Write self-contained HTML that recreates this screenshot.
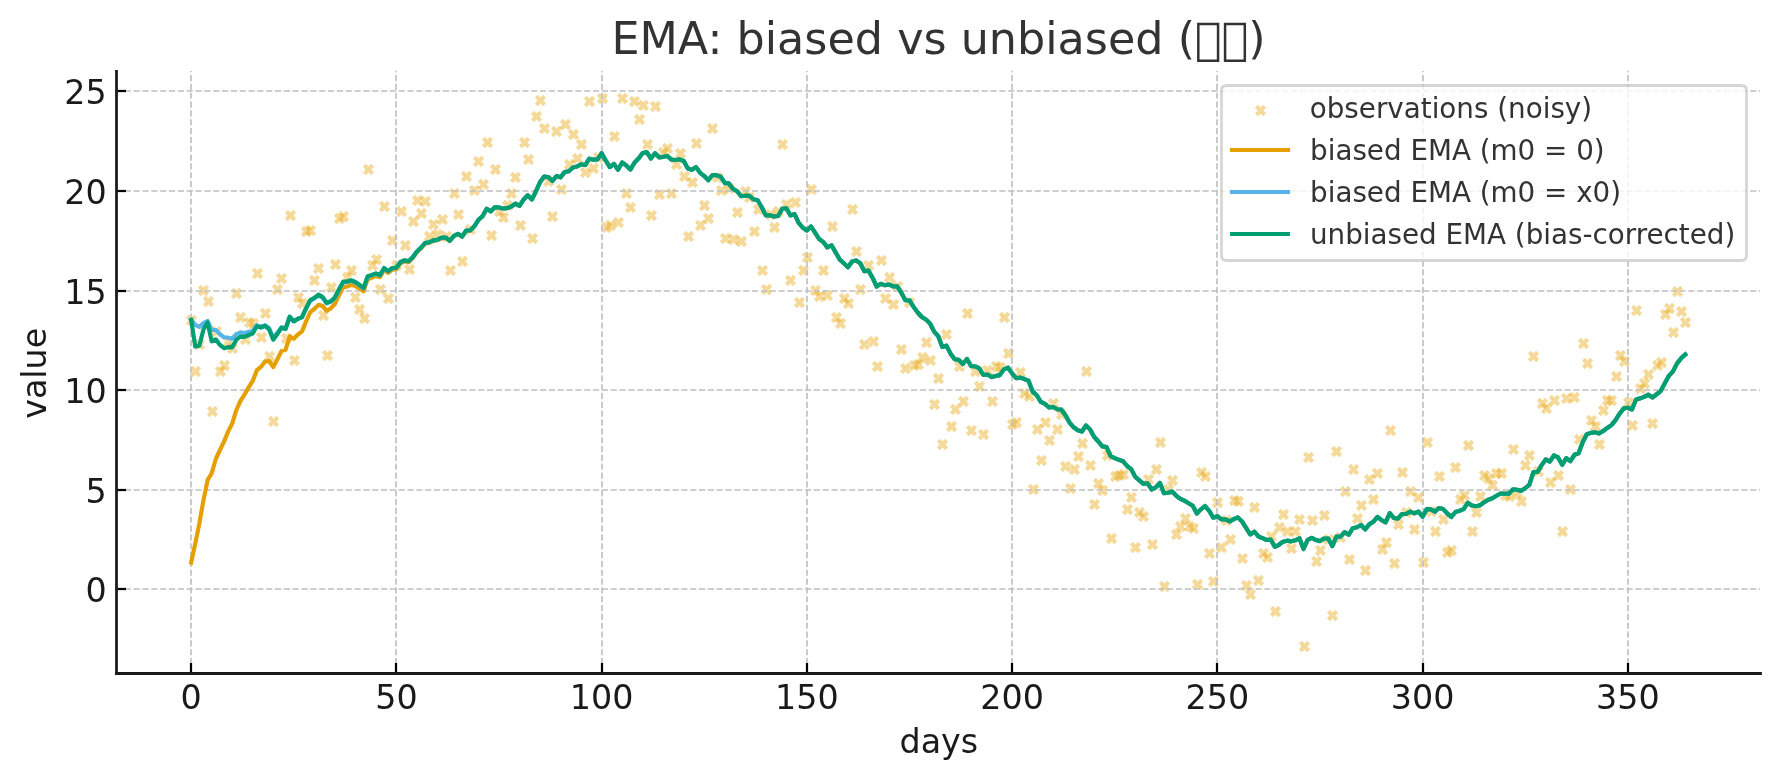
<!DOCTYPE html>
<html lang="en">
<head>
<meta charset="utf-8">
<title>EMA: biased vs unbiased</title>
<style>
html,body{margin:0;padding:0;background:#ffffff;}
body{width:1779px;height:780px;overflow:hidden;}
svg{display:block;will-change:transform;}
</style>
</head>
<body>
<svg width="1780" height="780" viewBox="0 0 1780 780">
 <defs>
  <style type="text/css">*{stroke-linejoin: round; stroke-linecap: butt}</style>
 </defs>
 <g id="figure_1">
  <g id="patch_1">
   <path d="M 0 780 
L 1780 780 
L 1780 0 
L 0 0 
z
" style="fill: #ffffff"/>
  </g>
  <g id="axes_1">
   <g id="patch_2">
    <path d="M 116.458333 673.166667 
L 1760 673.166667 
L 1760 70.666667 
L 116.458333 70.666667 
z
" style="fill: #ffffff"/>
   </g>
   <g id="PathCollection_1">
    <defs>
     <path id="m74cac487a1" d="M -4.166667 4.166667 
L 4.166667 -4.166667 
M -4.166667 -4.166667 
L 4.166667 4.166667 
" style="stroke: #e69f00; stroke-opacity: 0.4; stroke-width: 4.166667"/>
    </defs>
    <g clip-path="url(#p6c6bb15aff)">
     <use href="#m74cac487a1" x="191.5" y="320.5" style="fill: #e69f00; fill-opacity: 0.4; stroke: #e69f00; stroke-opacity: 0.4; stroke-width: 4.166667"/>
     <use href="#m74cac487a1" x="195.5" y="371.5" style="fill: #e69f00; fill-opacity: 0.4; stroke: #e69f00; stroke-opacity: 0.4; stroke-width: 4.166667"/>
     <use href="#m74cac487a1" x="199.5" y="344.5" style="fill: #e69f00; fill-opacity: 0.4; stroke: #e69f00; stroke-opacity: 0.4; stroke-width: 4.166667"/>
     <use href="#m74cac487a1" x="203.5" y="290.5" style="fill: #e69f00; fill-opacity: 0.4; stroke: #e69f00; stroke-opacity: 0.4; stroke-width: 4.166667"/>
     <use href="#m74cac487a1" x="208.5" y="301.5" style="fill: #e69f00; fill-opacity: 0.4; stroke: #e69f00; stroke-opacity: 0.4; stroke-width: 4.166667"/>
     <use href="#m74cac487a1" x="212.5" y="411.5" style="fill: #e69f00; fill-opacity: 0.4; stroke: #e69f00; stroke-opacity: 0.4; stroke-width: 4.166667"/>
     <use href="#m74cac487a1" x="216.5" y="331.5" style="fill: #e69f00; fill-opacity: 0.4; stroke: #e69f00; stroke-opacity: 0.4; stroke-width: 4.166667"/>
     <use href="#m74cac487a1" x="220.5" y="371.5" style="fill: #e69f00; fill-opacity: 0.4; stroke: #e69f00; stroke-opacity: 0.4; stroke-width: 4.166667"/>
     <use href="#m74cac487a1" x="224.5" y="365.5" style="fill: #e69f00; fill-opacity: 0.4; stroke: #e69f00; stroke-opacity: 0.4; stroke-width: 4.166667"/>
     <use href="#m74cac487a1" x="228.5" y="341.5" style="fill: #e69f00; fill-opacity: 0.4; stroke: #e69f00; stroke-opacity: 0.4; stroke-width: 4.166667"/>
     <use href="#m74cac487a1" x="232.5" y="348.5" style="fill: #e69f00; fill-opacity: 0.4; stroke: #e69f00; stroke-opacity: 0.4; stroke-width: 4.166667"/>
     <use href="#m74cac487a1" x="236.5" y="293.5" style="fill: #e69f00; fill-opacity: 0.4; stroke: #e69f00; stroke-opacity: 0.4; stroke-width: 4.166667"/>
     <use href="#m74cac487a1" x="240.5" y="317.5" style="fill: #e69f00; fill-opacity: 0.4; stroke: #e69f00; stroke-opacity: 0.4; stroke-width: 4.166667"/>
     <use href="#m74cac487a1" x="245.5" y="339.5" style="fill: #e69f00; fill-opacity: 0.4; stroke: #e69f00; stroke-opacity: 0.4; stroke-width: 4.166667"/>
     <use href="#m74cac487a1" x="249.5" y="322.5" style="fill: #e69f00; fill-opacity: 0.4; stroke: #e69f00; stroke-opacity: 0.4; stroke-width: 4.166667"/>
     <use href="#m74cac487a1" x="253.5" y="323.5" style="fill: #e69f00; fill-opacity: 0.4; stroke: #e69f00; stroke-opacity: 0.4; stroke-width: 4.166667"/>
     <use href="#m74cac487a1" x="257.5" y="273.5" style="fill: #e69f00; fill-opacity: 0.4; stroke: #e69f00; stroke-opacity: 0.4; stroke-width: 4.166667"/>
     <use href="#m74cac487a1" x="261.5" y="337.5" style="fill: #e69f00; fill-opacity: 0.4; stroke: #e69f00; stroke-opacity: 0.4; stroke-width: 4.166667"/>
     <use href="#m74cac487a1" x="265.5" y="313.5" style="fill: #e69f00; fill-opacity: 0.4; stroke: #e69f00; stroke-opacity: 0.4; stroke-width: 4.166667"/>
     <use href="#m74cac487a1" x="269.5" y="356.5" style="fill: #e69f00; fill-opacity: 0.4; stroke: #e69f00; stroke-opacity: 0.4; stroke-width: 4.166667"/>
     <use href="#m74cac487a1" x="273.5" y="421.5" style="fill: #e69f00; fill-opacity: 0.4; stroke: #e69f00; stroke-opacity: 0.4; stroke-width: 4.166667"/>
     <use href="#m74cac487a1" x="277.5" y="289.5" style="fill: #e69f00; fill-opacity: 0.4; stroke: #e69f00; stroke-opacity: 0.4; stroke-width: 4.166667"/>
     <use href="#m74cac487a1" x="281.5" y="278.5" style="fill: #e69f00; fill-opacity: 0.4; stroke: #e69f00; stroke-opacity: 0.4; stroke-width: 4.166667"/>
     <use href="#m74cac487a1" x="286.5" y="338.5" style="fill: #e69f00; fill-opacity: 0.4; stroke: #e69f00; stroke-opacity: 0.4; stroke-width: 4.166667"/>
     <use href="#m74cac487a1" x="290.5" y="215.5" style="fill: #e69f00; fill-opacity: 0.4; stroke: #e69f00; stroke-opacity: 0.4; stroke-width: 4.166667"/>
     <use href="#m74cac487a1" x="294.5" y="360.5" style="fill: #e69f00; fill-opacity: 0.4; stroke: #e69f00; stroke-opacity: 0.4; stroke-width: 4.166667"/>
     <use href="#m74cac487a1" x="298.5" y="297.5" style="fill: #e69f00; fill-opacity: 0.4; stroke: #e69f00; stroke-opacity: 0.4; stroke-width: 4.166667"/>
     <use href="#m74cac487a1" x="302.5" y="303.5" style="fill: #e69f00; fill-opacity: 0.4; stroke: #e69f00; stroke-opacity: 0.4; stroke-width: 4.166667"/>
     <use href="#m74cac487a1" x="306.5" y="231.5" style="fill: #e69f00; fill-opacity: 0.4; stroke: #e69f00; stroke-opacity: 0.4; stroke-width: 4.166667"/>
     <use href="#m74cac487a1" x="310.5" y="230.5" style="fill: #e69f00; fill-opacity: 0.4; stroke: #e69f00; stroke-opacity: 0.4; stroke-width: 4.166667"/>
     <use href="#m74cac487a1" x="314.5" y="280.5" style="fill: #e69f00; fill-opacity: 0.4; stroke: #e69f00; stroke-opacity: 0.4; stroke-width: 4.166667"/>
     <use href="#m74cac487a1" x="318.5" y="268.5" style="fill: #e69f00; fill-opacity: 0.4; stroke: #e69f00; stroke-opacity: 0.4; stroke-width: 4.166667"/>
     <use href="#m74cac487a1" x="323.5" y="315.5" style="fill: #e69f00; fill-opacity: 0.4; stroke: #e69f00; stroke-opacity: 0.4; stroke-width: 4.166667"/>
     <use href="#m74cac487a1" x="327.5" y="355.5" style="fill: #e69f00; fill-opacity: 0.4; stroke: #e69f00; stroke-opacity: 0.4; stroke-width: 4.166667"/>
     <use href="#m74cac487a1" x="331.5" y="287.5" style="fill: #e69f00; fill-opacity: 0.4; stroke: #e69f00; stroke-opacity: 0.4; stroke-width: 4.166667"/>
     <use href="#m74cac487a1" x="335.5" y="264.5" style="fill: #e69f00; fill-opacity: 0.4; stroke: #e69f00; stroke-opacity: 0.4; stroke-width: 4.166667"/>
     <use href="#m74cac487a1" x="339.5" y="218.5" style="fill: #e69f00; fill-opacity: 0.4; stroke: #e69f00; stroke-opacity: 0.4; stroke-width: 4.166667"/>
     <use href="#m74cac487a1" x="343.5" y="216.5" style="fill: #e69f00; fill-opacity: 0.4; stroke: #e69f00; stroke-opacity: 0.4; stroke-width: 4.166667"/>
     <use href="#m74cac487a1" x="347.5" y="277.5" style="fill: #e69f00; fill-opacity: 0.4; stroke: #e69f00; stroke-opacity: 0.4; stroke-width: 4.166667"/>
     <use href="#m74cac487a1" x="351.5" y="270.5" style="fill: #e69f00; fill-opacity: 0.4; stroke: #e69f00; stroke-opacity: 0.4; stroke-width: 4.166667"/>
     <use href="#m74cac487a1" x="355.5" y="297.5" style="fill: #e69f00; fill-opacity: 0.4; stroke: #e69f00; stroke-opacity: 0.4; stroke-width: 4.166667"/>
     <use href="#m74cac487a1" x="359.5" y="309.5" style="fill: #e69f00; fill-opacity: 0.4; stroke: #e69f00; stroke-opacity: 0.4; stroke-width: 4.166667"/>
     <use href="#m74cac487a1" x="364.5" y="318.5" style="fill: #e69f00; fill-opacity: 0.4; stroke: #e69f00; stroke-opacity: 0.4; stroke-width: 4.166667"/>
     <use href="#m74cac487a1" x="368.5" y="169.5" style="fill: #e69f00; fill-opacity: 0.4; stroke: #e69f00; stroke-opacity: 0.4; stroke-width: 4.166667"/>
     <use href="#m74cac487a1" x="372.5" y="265.5" style="fill: #e69f00; fill-opacity: 0.4; stroke: #e69f00; stroke-opacity: 0.4; stroke-width: 4.166667"/>
     <use href="#m74cac487a1" x="376.5" y="259.5" style="fill: #e69f00; fill-opacity: 0.4; stroke: #e69f00; stroke-opacity: 0.4; stroke-width: 4.166667"/>
     <use href="#m74cac487a1" x="380.5" y="289.5" style="fill: #e69f00; fill-opacity: 0.4; stroke: #e69f00; stroke-opacity: 0.4; stroke-width: 4.166667"/>
     <use href="#m74cac487a1" x="384.5" y="206.5" style="fill: #e69f00; fill-opacity: 0.4; stroke: #e69f00; stroke-opacity: 0.4; stroke-width: 4.166667"/>
     <use href="#m74cac487a1" x="388.5" y="298.5" style="fill: #e69f00; fill-opacity: 0.4; stroke: #e69f00; stroke-opacity: 0.4; stroke-width: 4.166667"/>
     <use href="#m74cac487a1" x="392.5" y="240.5" style="fill: #e69f00; fill-opacity: 0.4; stroke: #e69f00; stroke-opacity: 0.4; stroke-width: 4.166667"/>
     <use href="#m74cac487a1" x="396.5" y="265.5" style="fill: #e69f00; fill-opacity: 0.4; stroke: #e69f00; stroke-opacity: 0.4; stroke-width: 4.166667"/>
     <use href="#m74cac487a1" x="401.5" y="211.5" style="fill: #e69f00; fill-opacity: 0.4; stroke: #e69f00; stroke-opacity: 0.4; stroke-width: 4.166667"/>
     <use href="#m74cac487a1" x="405.5" y="245.5" style="fill: #e69f00; fill-opacity: 0.4; stroke: #e69f00; stroke-opacity: 0.4; stroke-width: 4.166667"/>
     <use href="#m74cac487a1" x="409.5" y="269.5" style="fill: #e69f00; fill-opacity: 0.4; stroke: #e69f00; stroke-opacity: 0.4; stroke-width: 4.166667"/>
     <use href="#m74cac487a1" x="413.5" y="221.5" style="fill: #e69f00; fill-opacity: 0.4; stroke: #e69f00; stroke-opacity: 0.4; stroke-width: 4.166667"/>
     <use href="#m74cac487a1" x="417.5" y="200.5" style="fill: #e69f00; fill-opacity: 0.4; stroke: #e69f00; stroke-opacity: 0.4; stroke-width: 4.166667"/>
     <use href="#m74cac487a1" x="421.5" y="213.5" style="fill: #e69f00; fill-opacity: 0.4; stroke: #e69f00; stroke-opacity: 0.4; stroke-width: 4.166667"/>
     <use href="#m74cac487a1" x="425.5" y="201.5" style="fill: #e69f00; fill-opacity: 0.4; stroke: #e69f00; stroke-opacity: 0.4; stroke-width: 4.166667"/>
     <use href="#m74cac487a1" x="429.5" y="236.5" style="fill: #e69f00; fill-opacity: 0.4; stroke: #e69f00; stroke-opacity: 0.4; stroke-width: 4.166667"/>
     <use href="#m74cac487a1" x="433.5" y="224.5" style="fill: #e69f00; fill-opacity: 0.4; stroke: #e69f00; stroke-opacity: 0.4; stroke-width: 4.166667"/>
     <use href="#m74cac487a1" x="437.5" y="234.5" style="fill: #e69f00; fill-opacity: 0.4; stroke: #e69f00; stroke-opacity: 0.4; stroke-width: 4.166667"/>
     <use href="#m74cac487a1" x="442.5" y="219.5" style="fill: #e69f00; fill-opacity: 0.4; stroke: #e69f00; stroke-opacity: 0.4; stroke-width: 4.166667"/>
     <use href="#m74cac487a1" x="446.5" y="236.5" style="fill: #e69f00; fill-opacity: 0.4; stroke: #e69f00; stroke-opacity: 0.4; stroke-width: 4.166667"/>
     <use href="#m74cac487a1" x="450.5" y="270.5" style="fill: #e69f00; fill-opacity: 0.4; stroke: #e69f00; stroke-opacity: 0.4; stroke-width: 4.166667"/>
     <use href="#m74cac487a1" x="454.5" y="193.5" style="fill: #e69f00; fill-opacity: 0.4; stroke: #e69f00; stroke-opacity: 0.4; stroke-width: 4.166667"/>
     <use href="#m74cac487a1" x="458.5" y="214.5" style="fill: #e69f00; fill-opacity: 0.4; stroke: #e69f00; stroke-opacity: 0.4; stroke-width: 4.166667"/>
     <use href="#m74cac487a1" x="462.5" y="261.5" style="fill: #e69f00; fill-opacity: 0.4; stroke: #e69f00; stroke-opacity: 0.4; stroke-width: 4.166667"/>
     <use href="#m74cac487a1" x="466.5" y="176.5" style="fill: #e69f00; fill-opacity: 0.4; stroke: #e69f00; stroke-opacity: 0.4; stroke-width: 4.166667"/>
     <use href="#m74cac487a1" x="470.5" y="229.5" style="fill: #e69f00; fill-opacity: 0.4; stroke: #e69f00; stroke-opacity: 0.4; stroke-width: 4.166667"/>
     <use href="#m74cac487a1" x="474.5" y="190.5" style="fill: #e69f00; fill-opacity: 0.4; stroke: #e69f00; stroke-opacity: 0.4; stroke-width: 4.166667"/>
     <use href="#m74cac487a1" x="478.5" y="161.5" style="fill: #e69f00; fill-opacity: 0.4; stroke: #e69f00; stroke-opacity: 0.4; stroke-width: 4.166667"/>
     <use href="#m74cac487a1" x="483.5" y="184.5" style="fill: #e69f00; fill-opacity: 0.4; stroke: #e69f00; stroke-opacity: 0.4; stroke-width: 4.166667"/>
     <use href="#m74cac487a1" x="487.5" y="142.5" style="fill: #e69f00; fill-opacity: 0.4; stroke: #e69f00; stroke-opacity: 0.4; stroke-width: 4.166667"/>
     <use href="#m74cac487a1" x="491.5" y="235.5" style="fill: #e69f00; fill-opacity: 0.4; stroke: #e69f00; stroke-opacity: 0.4; stroke-width: 4.166667"/>
     <use href="#m74cac487a1" x="495.5" y="169.5" style="fill: #e69f00; fill-opacity: 0.4; stroke: #e69f00; stroke-opacity: 0.4; stroke-width: 4.166667"/>
     <use href="#m74cac487a1" x="499.5" y="211.5" style="fill: #e69f00; fill-opacity: 0.4; stroke: #e69f00; stroke-opacity: 0.4; stroke-width: 4.166667"/>
     <use href="#m74cac487a1" x="503.5" y="217.5" style="fill: #e69f00; fill-opacity: 0.4; stroke: #e69f00; stroke-opacity: 0.4; stroke-width: 4.166667"/>
     <use href="#m74cac487a1" x="507.5" y="205.5" style="fill: #e69f00; fill-opacity: 0.4; stroke: #e69f00; stroke-opacity: 0.4; stroke-width: 4.166667"/>
     <use href="#m74cac487a1" x="511.5" y="193.5" style="fill: #e69f00; fill-opacity: 0.4; stroke: #e69f00; stroke-opacity: 0.4; stroke-width: 4.166667"/>
     <use href="#m74cac487a1" x="515.5" y="177.5" style="fill: #e69f00; fill-opacity: 0.4; stroke: #e69f00; stroke-opacity: 0.4; stroke-width: 4.166667"/>
     <use href="#m74cac487a1" x="520.5" y="225.5" style="fill: #e69f00; fill-opacity: 0.4; stroke: #e69f00; stroke-opacity: 0.4; stroke-width: 4.166667"/>
     <use href="#m74cac487a1" x="524.5" y="142.5" style="fill: #e69f00; fill-opacity: 0.4; stroke: #e69f00; stroke-opacity: 0.4; stroke-width: 4.166667"/>
     <use href="#m74cac487a1" x="528.5" y="159.5" style="fill: #e69f00; fill-opacity: 0.4; stroke: #e69f00; stroke-opacity: 0.4; stroke-width: 4.166667"/>
     <use href="#m74cac487a1" x="532.5" y="238.5" style="fill: #e69f00; fill-opacity: 0.4; stroke: #e69f00; stroke-opacity: 0.4; stroke-width: 4.166667"/>
     <use href="#m74cac487a1" x="536.5" y="116.5" style="fill: #e69f00; fill-opacity: 0.4; stroke: #e69f00; stroke-opacity: 0.4; stroke-width: 4.166667"/>
     <use href="#m74cac487a1" x="540.5" y="100.5" style="fill: #e69f00; fill-opacity: 0.4; stroke: #e69f00; stroke-opacity: 0.4; stroke-width: 4.166667"/>
     <use href="#m74cac487a1" x="544.5" y="128.5" style="fill: #e69f00; fill-opacity: 0.4; stroke: #e69f00; stroke-opacity: 0.4; stroke-width: 4.166667"/>
     <use href="#m74cac487a1" x="548.5" y="181.5" style="fill: #e69f00; fill-opacity: 0.4; stroke: #e69f00; stroke-opacity: 0.4; stroke-width: 4.166667"/>
     <use href="#m74cac487a1" x="552.5" y="216.5" style="fill: #e69f00; fill-opacity: 0.4; stroke: #e69f00; stroke-opacity: 0.4; stroke-width: 4.166667"/>
     <use href="#m74cac487a1" x="556.5" y="131.5" style="fill: #e69f00; fill-opacity: 0.4; stroke: #e69f00; stroke-opacity: 0.4; stroke-width: 4.166667"/>
     <use href="#m74cac487a1" x="561.5" y="189.5" style="fill: #e69f00; fill-opacity: 0.4; stroke: #e69f00; stroke-opacity: 0.4; stroke-width: 4.166667"/>
     <use href="#m74cac487a1" x="565.5" y="124.5" style="fill: #e69f00; fill-opacity: 0.4; stroke: #e69f00; stroke-opacity: 0.4; stroke-width: 4.166667"/>
     <use href="#m74cac487a1" x="569.5" y="164.5" style="fill: #e69f00; fill-opacity: 0.4; stroke: #e69f00; stroke-opacity: 0.4; stroke-width: 4.166667"/>
     <use href="#m74cac487a1" x="573.5" y="134.5" style="fill: #e69f00; fill-opacity: 0.4; stroke: #e69f00; stroke-opacity: 0.4; stroke-width: 4.166667"/>
     <use href="#m74cac487a1" x="577.5" y="158.5" style="fill: #e69f00; fill-opacity: 0.4; stroke: #e69f00; stroke-opacity: 0.4; stroke-width: 4.166667"/>
     <use href="#m74cac487a1" x="581.5" y="144.5" style="fill: #e69f00; fill-opacity: 0.4; stroke: #e69f00; stroke-opacity: 0.4; stroke-width: 4.166667"/>
     <use href="#m74cac487a1" x="585.5" y="172.5" style="fill: #e69f00; fill-opacity: 0.4; stroke: #e69f00; stroke-opacity: 0.4; stroke-width: 4.166667"/>
     <use href="#m74cac487a1" x="589.5" y="101.5" style="fill: #e69f00; fill-opacity: 0.4; stroke: #e69f00; stroke-opacity: 0.4; stroke-width: 4.166667"/>
     <use href="#m74cac487a1" x="593.5" y="168.5" style="fill: #e69f00; fill-opacity: 0.4; stroke: #e69f00; stroke-opacity: 0.4; stroke-width: 4.166667"/>
     <use href="#m74cac487a1" x="598.5" y="157.5" style="fill: #e69f00; fill-opacity: 0.4; stroke: #e69f00; stroke-opacity: 0.4; stroke-width: 4.166667"/>
     <use href="#m74cac487a1" x="602.5" y="98.5" style="fill: #e69f00; fill-opacity: 0.4; stroke: #e69f00; stroke-opacity: 0.4; stroke-width: 4.166667"/>
     <use href="#m74cac487a1" x="606.5" y="227.5" style="fill: #e69f00; fill-opacity: 0.4; stroke: #e69f00; stroke-opacity: 0.4; stroke-width: 4.166667"/>
     <use href="#m74cac487a1" x="610.5" y="225.5" style="fill: #e69f00; fill-opacity: 0.4; stroke: #e69f00; stroke-opacity: 0.4; stroke-width: 4.166667"/>
     <use href="#m74cac487a1" x="614.5" y="136.5" style="fill: #e69f00; fill-opacity: 0.4; stroke: #e69f00; stroke-opacity: 0.4; stroke-width: 4.166667"/>
     <use href="#m74cac487a1" x="618.5" y="222.5" style="fill: #e69f00; fill-opacity: 0.4; stroke: #e69f00; stroke-opacity: 0.4; stroke-width: 4.166667"/>
     <use href="#m74cac487a1" x="622.5" y="98.5" style="fill: #e69f00; fill-opacity: 0.4; stroke: #e69f00; stroke-opacity: 0.4; stroke-width: 4.166667"/>
     <use href="#m74cac487a1" x="626.5" y="193.5" style="fill: #e69f00; fill-opacity: 0.4; stroke: #e69f00; stroke-opacity: 0.4; stroke-width: 4.166667"/>
     <use href="#m74cac487a1" x="630.5" y="207.5" style="fill: #e69f00; fill-opacity: 0.4; stroke: #e69f00; stroke-opacity: 0.4; stroke-width: 4.166667"/>
     <use href="#m74cac487a1" x="634.5" y="101.5" style="fill: #e69f00; fill-opacity: 0.4; stroke: #e69f00; stroke-opacity: 0.4; stroke-width: 4.166667"/>
     <use href="#m74cac487a1" x="639.5" y="119.5" style="fill: #e69f00; fill-opacity: 0.4; stroke: #e69f00; stroke-opacity: 0.4; stroke-width: 4.166667"/>
     <use href="#m74cac487a1" x="643.5" y="105.5" style="fill: #e69f00; fill-opacity: 0.4; stroke: #e69f00; stroke-opacity: 0.4; stroke-width: 4.166667"/>
     <use href="#m74cac487a1" x="647.5" y="144.5" style="fill: #e69f00; fill-opacity: 0.4; stroke: #e69f00; stroke-opacity: 0.4; stroke-width: 4.166667"/>
     <use href="#m74cac487a1" x="651.5" y="215.5" style="fill: #e69f00; fill-opacity: 0.4; stroke: #e69f00; stroke-opacity: 0.4; stroke-width: 4.166667"/>
     <use href="#m74cac487a1" x="655.5" y="106.5" style="fill: #e69f00; fill-opacity: 0.4; stroke: #e69f00; stroke-opacity: 0.4; stroke-width: 4.166667"/>
     <use href="#m74cac487a1" x="659.5" y="194.5" style="fill: #e69f00; fill-opacity: 0.4; stroke: #e69f00; stroke-opacity: 0.4; stroke-width: 4.166667"/>
     <use href="#m74cac487a1" x="663.5" y="152.5" style="fill: #e69f00; fill-opacity: 0.4; stroke: #e69f00; stroke-opacity: 0.4; stroke-width: 4.166667"/>
     <use href="#m74cac487a1" x="667.5" y="148.5" style="fill: #e69f00; fill-opacity: 0.4; stroke: #e69f00; stroke-opacity: 0.4; stroke-width: 4.166667"/>
     <use href="#m74cac487a1" x="671.5" y="193.5" style="fill: #e69f00; fill-opacity: 0.4; stroke: #e69f00; stroke-opacity: 0.4; stroke-width: 4.166667"/>
     <use href="#m74cac487a1" x="676.5" y="164.5" style="fill: #e69f00; fill-opacity: 0.4; stroke: #e69f00; stroke-opacity: 0.4; stroke-width: 4.166667"/>
     <use href="#m74cac487a1" x="680.5" y="153.5" style="fill: #e69f00; fill-opacity: 0.4; stroke: #e69f00; stroke-opacity: 0.4; stroke-width: 4.166667"/>
     <use href="#m74cac487a1" x="684.5" y="176.5" style="fill: #e69f00; fill-opacity: 0.4; stroke: #e69f00; stroke-opacity: 0.4; stroke-width: 4.166667"/>
     <use href="#m74cac487a1" x="688.5" y="236.5" style="fill: #e69f00; fill-opacity: 0.4; stroke: #e69f00; stroke-opacity: 0.4; stroke-width: 4.166667"/>
     <use href="#m74cac487a1" x="692.5" y="182.5" style="fill: #e69f00; fill-opacity: 0.4; stroke: #e69f00; stroke-opacity: 0.4; stroke-width: 4.166667"/>
     <use href="#m74cac487a1" x="696.5" y="143.5" style="fill: #e69f00; fill-opacity: 0.4; stroke: #e69f00; stroke-opacity: 0.4; stroke-width: 4.166667"/>
     <use href="#m74cac487a1" x="700.5" y="225.5" style="fill: #e69f00; fill-opacity: 0.4; stroke: #e69f00; stroke-opacity: 0.4; stroke-width: 4.166667"/>
     <use href="#m74cac487a1" x="704.5" y="205.5" style="fill: #e69f00; fill-opacity: 0.4; stroke: #e69f00; stroke-opacity: 0.4; stroke-width: 4.166667"/>
     <use href="#m74cac487a1" x="708.5" y="218.5" style="fill: #e69f00; fill-opacity: 0.4; stroke: #e69f00; stroke-opacity: 0.4; stroke-width: 4.166667"/>
     <use href="#m74cac487a1" x="712.5" y="128.5" style="fill: #e69f00; fill-opacity: 0.4; stroke: #e69f00; stroke-opacity: 0.4; stroke-width: 4.166667"/>
     <use href="#m74cac487a1" x="717.5" y="177.5" style="fill: #e69f00; fill-opacity: 0.4; stroke: #e69f00; stroke-opacity: 0.4; stroke-width: 4.166667"/>
     <use href="#m74cac487a1" x="721.5" y="190.5" style="fill: #e69f00; fill-opacity: 0.4; stroke: #e69f00; stroke-opacity: 0.4; stroke-width: 4.166667"/>
     <use href="#m74cac487a1" x="725.5" y="238.5" style="fill: #e69f00; fill-opacity: 0.4; stroke: #e69f00; stroke-opacity: 0.4; stroke-width: 4.166667"/>
     <use href="#m74cac487a1" x="729.5" y="188.5" style="fill: #e69f00; fill-opacity: 0.4; stroke: #e69f00; stroke-opacity: 0.4; stroke-width: 4.166667"/>
     <use href="#m74cac487a1" x="733.5" y="239.5" style="fill: #e69f00; fill-opacity: 0.4; stroke: #e69f00; stroke-opacity: 0.4; stroke-width: 4.166667"/>
     <use href="#m74cac487a1" x="737.5" y="212.5" style="fill: #e69f00; fill-opacity: 0.4; stroke: #e69f00; stroke-opacity: 0.4; stroke-width: 4.166667"/>
     <use href="#m74cac487a1" x="741.5" y="241.5" style="fill: #e69f00; fill-opacity: 0.4; stroke: #e69f00; stroke-opacity: 0.4; stroke-width: 4.166667"/>
     <use href="#m74cac487a1" x="745.5" y="191.5" style="fill: #e69f00; fill-opacity: 0.4; stroke: #e69f00; stroke-opacity: 0.4; stroke-width: 4.166667"/>
     <use href="#m74cac487a1" x="749.5" y="197.5" style="fill: #e69f00; fill-opacity: 0.4; stroke: #e69f00; stroke-opacity: 0.4; stroke-width: 4.166667"/>
     <use href="#m74cac487a1" x="754.5" y="231.5" style="fill: #e69f00; fill-opacity: 0.4; stroke: #e69f00; stroke-opacity: 0.4; stroke-width: 4.166667"/>
     <use href="#m74cac487a1" x="758.5" y="209.5" style="fill: #e69f00; fill-opacity: 0.4; stroke: #e69f00; stroke-opacity: 0.4; stroke-width: 4.166667"/>
     <use href="#m74cac487a1" x="762.5" y="270.5" style="fill: #e69f00; fill-opacity: 0.4; stroke: #e69f00; stroke-opacity: 0.4; stroke-width: 4.166667"/>
     <use href="#m74cac487a1" x="766.5" y="289.5" style="fill: #e69f00; fill-opacity: 0.4; stroke: #e69f00; stroke-opacity: 0.4; stroke-width: 4.166667"/>
     <use href="#m74cac487a1" x="770.5" y="214.5" style="fill: #e69f00; fill-opacity: 0.4; stroke: #e69f00; stroke-opacity: 0.4; stroke-width: 4.166667"/>
     <use href="#m74cac487a1" x="774.5" y="227.5" style="fill: #e69f00; fill-opacity: 0.4; stroke: #e69f00; stroke-opacity: 0.4; stroke-width: 4.166667"/>
     <use href="#m74cac487a1" x="778.5" y="211.5" style="fill: #e69f00; fill-opacity: 0.4; stroke: #e69f00; stroke-opacity: 0.4; stroke-width: 4.166667"/>
     <use href="#m74cac487a1" x="782.5" y="144.5" style="fill: #e69f00; fill-opacity: 0.4; stroke: #e69f00; stroke-opacity: 0.4; stroke-width: 4.166667"/>
     <use href="#m74cac487a1" x="786.5" y="204.5" style="fill: #e69f00; fill-opacity: 0.4; stroke: #e69f00; stroke-opacity: 0.4; stroke-width: 4.166667"/>
     <use href="#m74cac487a1" x="790.5" y="280.5" style="fill: #e69f00; fill-opacity: 0.4; stroke: #e69f00; stroke-opacity: 0.4; stroke-width: 4.166667"/>
     <use href="#m74cac487a1" x="795.5" y="202.5" style="fill: #e69f00; fill-opacity: 0.4; stroke: #e69f00; stroke-opacity: 0.4; stroke-width: 4.166667"/>
     <use href="#m74cac487a1" x="799.5" y="302.5" style="fill: #e69f00; fill-opacity: 0.4; stroke: #e69f00; stroke-opacity: 0.4; stroke-width: 4.166667"/>
     <use href="#m74cac487a1" x="803.5" y="270.5" style="fill: #e69f00; fill-opacity: 0.4; stroke: #e69f00; stroke-opacity: 0.4; stroke-width: 4.166667"/>
     <use href="#m74cac487a1" x="807.5" y="257.5" style="fill: #e69f00; fill-opacity: 0.4; stroke: #e69f00; stroke-opacity: 0.4; stroke-width: 4.166667"/>
     <use href="#m74cac487a1" x="811.5" y="189.5" style="fill: #e69f00; fill-opacity: 0.4; stroke: #e69f00; stroke-opacity: 0.4; stroke-width: 4.166667"/>
     <use href="#m74cac487a1" x="815.5" y="290.5" style="fill: #e69f00; fill-opacity: 0.4; stroke: #e69f00; stroke-opacity: 0.4; stroke-width: 4.166667"/>
     <use href="#m74cac487a1" x="819.5" y="296.5" style="fill: #e69f00; fill-opacity: 0.4; stroke: #e69f00; stroke-opacity: 0.4; stroke-width: 4.166667"/>
     <use href="#m74cac487a1" x="823.5" y="270.5" style="fill: #e69f00; fill-opacity: 0.4; stroke: #e69f00; stroke-opacity: 0.4; stroke-width: 4.166667"/>
     <use href="#m74cac487a1" x="827.5" y="295.5" style="fill: #e69f00; fill-opacity: 0.4; stroke: #e69f00; stroke-opacity: 0.4; stroke-width: 4.166667"/>
     <use href="#m74cac487a1" x="832.5" y="226.5" style="fill: #e69f00; fill-opacity: 0.4; stroke: #e69f00; stroke-opacity: 0.4; stroke-width: 4.166667"/>
     <use href="#m74cac487a1" x="836.5" y="317.5" style="fill: #e69f00; fill-opacity: 0.4; stroke: #e69f00; stroke-opacity: 0.4; stroke-width: 4.166667"/>
     <use href="#m74cac487a1" x="840.5" y="323.5" style="fill: #e69f00; fill-opacity: 0.4; stroke: #e69f00; stroke-opacity: 0.4; stroke-width: 4.166667"/>
     <use href="#m74cac487a1" x="844.5" y="298.5" style="fill: #e69f00; fill-opacity: 0.4; stroke: #e69f00; stroke-opacity: 0.4; stroke-width: 4.166667"/>
     <use href="#m74cac487a1" x="848.5" y="303.5" style="fill: #e69f00; fill-opacity: 0.4; stroke: #e69f00; stroke-opacity: 0.4; stroke-width: 4.166667"/>
     <use href="#m74cac487a1" x="852.5" y="209.5" style="fill: #e69f00; fill-opacity: 0.4; stroke: #e69f00; stroke-opacity: 0.4; stroke-width: 4.166667"/>
     <use href="#m74cac487a1" x="856.5" y="251.5" style="fill: #e69f00; fill-opacity: 0.4; stroke: #e69f00; stroke-opacity: 0.4; stroke-width: 4.166667"/>
     <use href="#m74cac487a1" x="860.5" y="289.5" style="fill: #e69f00; fill-opacity: 0.4; stroke: #e69f00; stroke-opacity: 0.4; stroke-width: 4.166667"/>
     <use href="#m74cac487a1" x="864.5" y="344.5" style="fill: #e69f00; fill-opacity: 0.4; stroke: #e69f00; stroke-opacity: 0.4; stroke-width: 4.166667"/>
     <use href="#m74cac487a1" x="868.5" y="265.5" style="fill: #e69f00; fill-opacity: 0.4; stroke: #e69f00; stroke-opacity: 0.4; stroke-width: 4.166667"/>
     <use href="#m74cac487a1" x="873.5" y="341.5" style="fill: #e69f00; fill-opacity: 0.4; stroke: #e69f00; stroke-opacity: 0.4; stroke-width: 4.166667"/>
     <use href="#m74cac487a1" x="877.5" y="366.5" style="fill: #e69f00; fill-opacity: 0.4; stroke: #e69f00; stroke-opacity: 0.4; stroke-width: 4.166667"/>
     <use href="#m74cac487a1" x="881.5" y="260.5" style="fill: #e69f00; fill-opacity: 0.4; stroke: #e69f00; stroke-opacity: 0.4; stroke-width: 4.166667"/>
     <use href="#m74cac487a1" x="885.5" y="298.5" style="fill: #e69f00; fill-opacity: 0.4; stroke: #e69f00; stroke-opacity: 0.4; stroke-width: 4.166667"/>
     <use href="#m74cac487a1" x="889.5" y="277.5" style="fill: #e69f00; fill-opacity: 0.4; stroke: #e69f00; stroke-opacity: 0.4; stroke-width: 4.166667"/>
     <use href="#m74cac487a1" x="893.5" y="304.5" style="fill: #e69f00; fill-opacity: 0.4; stroke: #e69f00; stroke-opacity: 0.4; stroke-width: 4.166667"/>
     <use href="#m74cac487a1" x="897.5" y="286.5" style="fill: #e69f00; fill-opacity: 0.4; stroke: #e69f00; stroke-opacity: 0.4; stroke-width: 4.166667"/>
     <use href="#m74cac487a1" x="901.5" y="349.5" style="fill: #e69f00; fill-opacity: 0.4; stroke: #e69f00; stroke-opacity: 0.4; stroke-width: 4.166667"/>
     <use href="#m74cac487a1" x="905.5" y="368.5" style="fill: #e69f00; fill-opacity: 0.4; stroke: #e69f00; stroke-opacity: 0.4; stroke-width: 4.166667"/>
     <use href="#m74cac487a1" x="909.5" y="302.5" style="fill: #e69f00; fill-opacity: 0.4; stroke: #e69f00; stroke-opacity: 0.4; stroke-width: 4.166667"/>
     <use href="#m74cac487a1" x="914.5" y="365.5" style="fill: #e69f00; fill-opacity: 0.4; stroke: #e69f00; stroke-opacity: 0.4; stroke-width: 4.166667"/>
     <use href="#m74cac487a1" x="918.5" y="364.5" style="fill: #e69f00; fill-opacity: 0.4; stroke: #e69f00; stroke-opacity: 0.4; stroke-width: 4.166667"/>
     <use href="#m74cac487a1" x="922.5" y="357.5" style="fill: #e69f00; fill-opacity: 0.4; stroke: #e69f00; stroke-opacity: 0.4; stroke-width: 4.166667"/>
     <use href="#m74cac487a1" x="926.5" y="342.5" style="fill: #e69f00; fill-opacity: 0.4; stroke: #e69f00; stroke-opacity: 0.4; stroke-width: 4.166667"/>
     <use href="#m74cac487a1" x="930.5" y="360.5" style="fill: #e69f00; fill-opacity: 0.4; stroke: #e69f00; stroke-opacity: 0.4; stroke-width: 4.166667"/>
     <use href="#m74cac487a1" x="934.5" y="404.5" style="fill: #e69f00; fill-opacity: 0.4; stroke: #e69f00; stroke-opacity: 0.4; stroke-width: 4.166667"/>
     <use href="#m74cac487a1" x="938.5" y="378.5" style="fill: #e69f00; fill-opacity: 0.4; stroke: #e69f00; stroke-opacity: 0.4; stroke-width: 4.166667"/>
     <use href="#m74cac487a1" x="942.5" y="444.5" style="fill: #e69f00; fill-opacity: 0.4; stroke: #e69f00; stroke-opacity: 0.4; stroke-width: 4.166667"/>
     <use href="#m74cac487a1" x="946.5" y="334.5" style="fill: #e69f00; fill-opacity: 0.4; stroke: #e69f00; stroke-opacity: 0.4; stroke-width: 4.166667"/>
     <use href="#m74cac487a1" x="951.5" y="426.5" style="fill: #e69f00; fill-opacity: 0.4; stroke: #e69f00; stroke-opacity: 0.4; stroke-width: 4.166667"/>
     <use href="#m74cac487a1" x="955.5" y="409.5" style="fill: #e69f00; fill-opacity: 0.4; stroke: #e69f00; stroke-opacity: 0.4; stroke-width: 4.166667"/>
     <use href="#m74cac487a1" x="959.5" y="366.5" style="fill: #e69f00; fill-opacity: 0.4; stroke: #e69f00; stroke-opacity: 0.4; stroke-width: 4.166667"/>
     <use href="#m74cac487a1" x="963.5" y="401.5" style="fill: #e69f00; fill-opacity: 0.4; stroke: #e69f00; stroke-opacity: 0.4; stroke-width: 4.166667"/>
     <use href="#m74cac487a1" x="967.5" y="313.5" style="fill: #e69f00; fill-opacity: 0.4; stroke: #e69f00; stroke-opacity: 0.4; stroke-width: 4.166667"/>
     <use href="#m74cac487a1" x="971.5" y="430.5" style="fill: #e69f00; fill-opacity: 0.4; stroke: #e69f00; stroke-opacity: 0.4; stroke-width: 4.166667"/>
     <use href="#m74cac487a1" x="975.5" y="371.5" style="fill: #e69f00; fill-opacity: 0.4; stroke: #e69f00; stroke-opacity: 0.4; stroke-width: 4.166667"/>
     <use href="#m74cac487a1" x="979.5" y="386.5" style="fill: #e69f00; fill-opacity: 0.4; stroke: #e69f00; stroke-opacity: 0.4; stroke-width: 4.166667"/>
     <use href="#m74cac487a1" x="983.5" y="434.5" style="fill: #e69f00; fill-opacity: 0.4; stroke: #e69f00; stroke-opacity: 0.4; stroke-width: 4.166667"/>
     <use href="#m74cac487a1" x="987.5" y="370.5" style="fill: #e69f00; fill-opacity: 0.4; stroke: #e69f00; stroke-opacity: 0.4; stroke-width: 4.166667"/>
     <use href="#m74cac487a1" x="992.5" y="401.5" style="fill: #e69f00; fill-opacity: 0.4; stroke: #e69f00; stroke-opacity: 0.4; stroke-width: 4.166667"/>
     <use href="#m74cac487a1" x="996.5" y="366.5" style="fill: #e69f00; fill-opacity: 0.4; stroke: #e69f00; stroke-opacity: 0.4; stroke-width: 4.166667"/>
     <use href="#m74cac487a1" x="1000.5" y="367.5" style="fill: #e69f00; fill-opacity: 0.4; stroke: #e69f00; stroke-opacity: 0.4; stroke-width: 4.166667"/>
     <use href="#m74cac487a1" x="1004.5" y="317.5" style="fill: #e69f00; fill-opacity: 0.4; stroke: #e69f00; stroke-opacity: 0.4; stroke-width: 4.166667"/>
     <use href="#m74cac487a1" x="1008.5" y="353.5" style="fill: #e69f00; fill-opacity: 0.4; stroke: #e69f00; stroke-opacity: 0.4; stroke-width: 4.166667"/>
     <use href="#m74cac487a1" x="1012.5" y="424.5" style="fill: #e69f00; fill-opacity: 0.4; stroke: #e69f00; stroke-opacity: 0.4; stroke-width: 4.166667"/>
     <use href="#m74cac487a1" x="1016.5" y="422.5" style="fill: #e69f00; fill-opacity: 0.4; stroke: #e69f00; stroke-opacity: 0.4; stroke-width: 4.166667"/>
     <use href="#m74cac487a1" x="1020.5" y="372.5" style="fill: #e69f00; fill-opacity: 0.4; stroke: #e69f00; stroke-opacity: 0.4; stroke-width: 4.166667"/>
     <use href="#m74cac487a1" x="1024.5" y="393.5" style="fill: #e69f00; fill-opacity: 0.4; stroke: #e69f00; stroke-opacity: 0.4; stroke-width: 4.166667"/>
     <use href="#m74cac487a1" x="1029.5" y="396.5" style="fill: #e69f00; fill-opacity: 0.4; stroke: #e69f00; stroke-opacity: 0.4; stroke-width: 4.166667"/>
     <use href="#m74cac487a1" x="1033.5" y="489.5" style="fill: #e69f00; fill-opacity: 0.4; stroke: #e69f00; stroke-opacity: 0.4; stroke-width: 4.166667"/>
     <use href="#m74cac487a1" x="1037.5" y="429.5" style="fill: #e69f00; fill-opacity: 0.4; stroke: #e69f00; stroke-opacity: 0.4; stroke-width: 4.166667"/>
     <use href="#m74cac487a1" x="1041.5" y="460.5" style="fill: #e69f00; fill-opacity: 0.4; stroke: #e69f00; stroke-opacity: 0.4; stroke-width: 4.166667"/>
     <use href="#m74cac487a1" x="1045.5" y="422.5" style="fill: #e69f00; fill-opacity: 0.4; stroke: #e69f00; stroke-opacity: 0.4; stroke-width: 4.166667"/>
     <use href="#m74cac487a1" x="1049.5" y="440.5" style="fill: #e69f00; fill-opacity: 0.4; stroke: #e69f00; stroke-opacity: 0.4; stroke-width: 4.166667"/>
     <use href="#m74cac487a1" x="1053.5" y="403.5" style="fill: #e69f00; fill-opacity: 0.4; stroke: #e69f00; stroke-opacity: 0.4; stroke-width: 4.166667"/>
     <use href="#m74cac487a1" x="1057.5" y="429.5" style="fill: #e69f00; fill-opacity: 0.4; stroke: #e69f00; stroke-opacity: 0.4; stroke-width: 4.166667"/>
     <use href="#m74cac487a1" x="1061.5" y="414.5" style="fill: #e69f00; fill-opacity: 0.4; stroke: #e69f00; stroke-opacity: 0.4; stroke-width: 4.166667"/>
     <use href="#m74cac487a1" x="1065.5" y="466.5" style="fill: #e69f00; fill-opacity: 0.4; stroke: #e69f00; stroke-opacity: 0.4; stroke-width: 4.166667"/>
     <use href="#m74cac487a1" x="1070.5" y="488.5" style="fill: #e69f00; fill-opacity: 0.4; stroke: #e69f00; stroke-opacity: 0.4; stroke-width: 4.166667"/>
     <use href="#m74cac487a1" x="1074.5" y="469.5" style="fill: #e69f00; fill-opacity: 0.4; stroke: #e69f00; stroke-opacity: 0.4; stroke-width: 4.166667"/>
     <use href="#m74cac487a1" x="1078.5" y="456.5" style="fill: #e69f00; fill-opacity: 0.4; stroke: #e69f00; stroke-opacity: 0.4; stroke-width: 4.166667"/>
     <use href="#m74cac487a1" x="1082.5" y="443.5" style="fill: #e69f00; fill-opacity: 0.4; stroke: #e69f00; stroke-opacity: 0.4; stroke-width: 4.166667"/>
     <use href="#m74cac487a1" x="1086.5" y="371.5" style="fill: #e69f00; fill-opacity: 0.4; stroke: #e69f00; stroke-opacity: 0.4; stroke-width: 4.166667"/>
     <use href="#m74cac487a1" x="1090.5" y="465.5" style="fill: #e69f00; fill-opacity: 0.4; stroke: #e69f00; stroke-opacity: 0.4; stroke-width: 4.166667"/>
     <use href="#m74cac487a1" x="1094.5" y="504.5" style="fill: #e69f00; fill-opacity: 0.4; stroke: #e69f00; stroke-opacity: 0.4; stroke-width: 4.166667"/>
     <use href="#m74cac487a1" x="1098.5" y="483.5" style="fill: #e69f00; fill-opacity: 0.4; stroke: #e69f00; stroke-opacity: 0.4; stroke-width: 4.166667"/>
     <use href="#m74cac487a1" x="1102.5" y="490.5" style="fill: #e69f00; fill-opacity: 0.4; stroke: #e69f00; stroke-opacity: 0.4; stroke-width: 4.166667"/>
     <use href="#m74cac487a1" x="1107.5" y="455.5" style="fill: #e69f00; fill-opacity: 0.4; stroke: #e69f00; stroke-opacity: 0.4; stroke-width: 4.166667"/>
     <use href="#m74cac487a1" x="1111.5" y="538.5" style="fill: #e69f00; fill-opacity: 0.4; stroke: #e69f00; stroke-opacity: 0.4; stroke-width: 4.166667"/>
     <use href="#m74cac487a1" x="1115.5" y="476.5" style="fill: #e69f00; fill-opacity: 0.4; stroke: #e69f00; stroke-opacity: 0.4; stroke-width: 4.166667"/>
     <use href="#m74cac487a1" x="1119.5" y="475.5" style="fill: #e69f00; fill-opacity: 0.4; stroke: #e69f00; stroke-opacity: 0.4; stroke-width: 4.166667"/>
     <use href="#m74cac487a1" x="1123.5" y="474.5" style="fill: #e69f00; fill-opacity: 0.4; stroke: #e69f00; stroke-opacity: 0.4; stroke-width: 4.166667"/>
     <use href="#m74cac487a1" x="1127.5" y="509.5" style="fill: #e69f00; fill-opacity: 0.4; stroke: #e69f00; stroke-opacity: 0.4; stroke-width: 4.166667"/>
     <use href="#m74cac487a1" x="1131.5" y="497.5" style="fill: #e69f00; fill-opacity: 0.4; stroke: #e69f00; stroke-opacity: 0.4; stroke-width: 4.166667"/>
     <use href="#m74cac487a1" x="1135.5" y="547.5" style="fill: #e69f00; fill-opacity: 0.4; stroke: #e69f00; stroke-opacity: 0.4; stroke-width: 4.166667"/>
     <use href="#m74cac487a1" x="1139.5" y="512.5" style="fill: #e69f00; fill-opacity: 0.4; stroke: #e69f00; stroke-opacity: 0.4; stroke-width: 4.166667"/>
     <use href="#m74cac487a1" x="1143.5" y="516.5" style="fill: #e69f00; fill-opacity: 0.4; stroke: #e69f00; stroke-opacity: 0.4; stroke-width: 4.166667"/>
     <use href="#m74cac487a1" x="1148.5" y="479.5" style="fill: #e69f00; fill-opacity: 0.4; stroke: #e69f00; stroke-opacity: 0.4; stroke-width: 4.166667"/>
     <use href="#m74cac487a1" x="1152.5" y="544.5" style="fill: #e69f00; fill-opacity: 0.4; stroke: #e69f00; stroke-opacity: 0.4; stroke-width: 4.166667"/>
     <use href="#m74cac487a1" x="1156.5" y="469.5" style="fill: #e69f00; fill-opacity: 0.4; stroke: #e69f00; stroke-opacity: 0.4; stroke-width: 4.166667"/>
     <use href="#m74cac487a1" x="1160.5" y="442.5" style="fill: #e69f00; fill-opacity: 0.4; stroke: #e69f00; stroke-opacity: 0.4; stroke-width: 4.166667"/>
     <use href="#m74cac487a1" x="1164.5" y="586.5" style="fill: #e69f00; fill-opacity: 0.4; stroke: #e69f00; stroke-opacity: 0.4; stroke-width: 4.166667"/>
     <use href="#m74cac487a1" x="1168.5" y="489.5" style="fill: #e69f00; fill-opacity: 0.4; stroke: #e69f00; stroke-opacity: 0.4; stroke-width: 4.166667"/>
     <use href="#m74cac487a1" x="1172.5" y="480.5" style="fill: #e69f00; fill-opacity: 0.4; stroke: #e69f00; stroke-opacity: 0.4; stroke-width: 4.166667"/>
     <use href="#m74cac487a1" x="1176.5" y="534.5" style="fill: #e69f00; fill-opacity: 0.4; stroke: #e69f00; stroke-opacity: 0.4; stroke-width: 4.166667"/>
     <use href="#m74cac487a1" x="1180.5" y="526.5" style="fill: #e69f00; fill-opacity: 0.4; stroke: #e69f00; stroke-opacity: 0.4; stroke-width: 4.166667"/>
     <use href="#m74cac487a1" x="1185.5" y="518.5" style="fill: #e69f00; fill-opacity: 0.4; stroke: #e69f00; stroke-opacity: 0.4; stroke-width: 4.166667"/>
     <use href="#m74cac487a1" x="1189.5" y="526.5" style="fill: #e69f00; fill-opacity: 0.4; stroke: #e69f00; stroke-opacity: 0.4; stroke-width: 4.166667"/>
     <use href="#m74cac487a1" x="1193.5" y="528.5" style="fill: #e69f00; fill-opacity: 0.4; stroke: #e69f00; stroke-opacity: 0.4; stroke-width: 4.166667"/>
     <use href="#m74cac487a1" x="1197.5" y="584.5" style="fill: #e69f00; fill-opacity: 0.4; stroke: #e69f00; stroke-opacity: 0.4; stroke-width: 4.166667"/>
     <use href="#m74cac487a1" x="1201.5" y="472.5" style="fill: #e69f00; fill-opacity: 0.4; stroke: #e69f00; stroke-opacity: 0.4; stroke-width: 4.166667"/>
     <use href="#m74cac487a1" x="1205.5" y="476.5" style="fill: #e69f00; fill-opacity: 0.4; stroke: #e69f00; stroke-opacity: 0.4; stroke-width: 4.166667"/>
     <use href="#m74cac487a1" x="1209.5" y="553.5" style="fill: #e69f00; fill-opacity: 0.4; stroke: #e69f00; stroke-opacity: 0.4; stroke-width: 4.166667"/>
     <use href="#m74cac487a1" x="1213.5" y="581.5" style="fill: #e69f00; fill-opacity: 0.4; stroke: #e69f00; stroke-opacity: 0.4; stroke-width: 4.166667"/>
     <use href="#m74cac487a1" x="1217.5" y="502.5" style="fill: #e69f00; fill-opacity: 0.4; stroke: #e69f00; stroke-opacity: 0.4; stroke-width: 4.166667"/>
     <use href="#m74cac487a1" x="1221.5" y="547.5" style="fill: #e69f00; fill-opacity: 0.4; stroke: #e69f00; stroke-opacity: 0.4; stroke-width: 4.166667"/>
     <use href="#m74cac487a1" x="1226.5" y="520.5" style="fill: #e69f00; fill-opacity: 0.4; stroke: #e69f00; stroke-opacity: 0.4; stroke-width: 4.166667"/>
     <use href="#m74cac487a1" x="1230.5" y="539.5" style="fill: #e69f00; fill-opacity: 0.4; stroke: #e69f00; stroke-opacity: 0.4; stroke-width: 4.166667"/>
     <use href="#m74cac487a1" x="1234.5" y="500.5" style="fill: #e69f00; fill-opacity: 0.4; stroke: #e69f00; stroke-opacity: 0.4; stroke-width: 4.166667"/>
     <use href="#m74cac487a1" x="1238.5" y="501.5" style="fill: #e69f00; fill-opacity: 0.4; stroke: #e69f00; stroke-opacity: 0.4; stroke-width: 4.166667"/>
     <use href="#m74cac487a1" x="1242.5" y="558.5" style="fill: #e69f00; fill-opacity: 0.4; stroke: #e69f00; stroke-opacity: 0.4; stroke-width: 4.166667"/>
     <use href="#m74cac487a1" x="1246.5" y="585.5" style="fill: #e69f00; fill-opacity: 0.4; stroke: #e69f00; stroke-opacity: 0.4; stroke-width: 4.166667"/>
     <use href="#m74cac487a1" x="1250.5" y="594.5" style="fill: #e69f00; fill-opacity: 0.4; stroke: #e69f00; stroke-opacity: 0.4; stroke-width: 4.166667"/>
     <use href="#m74cac487a1" x="1254.5" y="507.5" style="fill: #e69f00; fill-opacity: 0.4; stroke: #e69f00; stroke-opacity: 0.4; stroke-width: 4.166667"/>
     <use href="#m74cac487a1" x="1258.5" y="580.5" style="fill: #e69f00; fill-opacity: 0.4; stroke: #e69f00; stroke-opacity: 0.4; stroke-width: 4.166667"/>
     <use href="#m74cac487a1" x="1263.5" y="553.5" style="fill: #e69f00; fill-opacity: 0.4; stroke: #e69f00; stroke-opacity: 0.4; stroke-width: 4.166667"/>
     <use href="#m74cac487a1" x="1267.5" y="557.5" style="fill: #e69f00; fill-opacity: 0.4; stroke: #e69f00; stroke-opacity: 0.4; stroke-width: 4.166667"/>
     <use href="#m74cac487a1" x="1271.5" y="536.5" style="fill: #e69f00; fill-opacity: 0.4; stroke: #e69f00; stroke-opacity: 0.4; stroke-width: 4.166667"/>
     <use href="#m74cac487a1" x="1275.5" y="611.5" style="fill: #e69f00; fill-opacity: 0.4; stroke: #e69f00; stroke-opacity: 0.4; stroke-width: 4.166667"/>
     <use href="#m74cac487a1" x="1279.5" y="527.5" style="fill: #e69f00; fill-opacity: 0.4; stroke: #e69f00; stroke-opacity: 0.4; stroke-width: 4.166667"/>
     <use href="#m74cac487a1" x="1283.5" y="514.5" style="fill: #e69f00; fill-opacity: 0.4; stroke: #e69f00; stroke-opacity: 0.4; stroke-width: 4.166667"/>
     <use href="#m74cac487a1" x="1287.5" y="531.5" style="fill: #e69f00; fill-opacity: 0.4; stroke: #e69f00; stroke-opacity: 0.4; stroke-width: 4.166667"/>
     <use href="#m74cac487a1" x="1291.5" y="548.5" style="fill: #e69f00; fill-opacity: 0.4; stroke: #e69f00; stroke-opacity: 0.4; stroke-width: 4.166667"/>
     <use href="#m74cac487a1" x="1295.5" y="531.5" style="fill: #e69f00; fill-opacity: 0.4; stroke: #e69f00; stroke-opacity: 0.4; stroke-width: 4.166667"/>
     <use href="#m74cac487a1" x="1299.5" y="519.5" style="fill: #e69f00; fill-opacity: 0.4; stroke: #e69f00; stroke-opacity: 0.4; stroke-width: 4.166667"/>
     <use href="#m74cac487a1" x="1304.5" y="646.5" style="fill: #e69f00; fill-opacity: 0.4; stroke: #e69f00; stroke-opacity: 0.4; stroke-width: 4.166667"/>
     <use href="#m74cac487a1" x="1308.5" y="457.5" style="fill: #e69f00; fill-opacity: 0.4; stroke: #e69f00; stroke-opacity: 0.4; stroke-width: 4.166667"/>
     <use href="#m74cac487a1" x="1312.5" y="520.5" style="fill: #e69f00; fill-opacity: 0.4; stroke: #e69f00; stroke-opacity: 0.4; stroke-width: 4.166667"/>
     <use href="#m74cac487a1" x="1316.5" y="561.5" style="fill: #e69f00; fill-opacity: 0.4; stroke: #e69f00; stroke-opacity: 0.4; stroke-width: 4.166667"/>
     <use href="#m74cac487a1" x="1320.5" y="550.5" style="fill: #e69f00; fill-opacity: 0.4; stroke: #e69f00; stroke-opacity: 0.4; stroke-width: 4.166667"/>
     <use href="#m74cac487a1" x="1324.5" y="515.5" style="fill: #e69f00; fill-opacity: 0.4; stroke: #e69f00; stroke-opacity: 0.4; stroke-width: 4.166667"/>
     <use href="#m74cac487a1" x="1328.5" y="539.5" style="fill: #e69f00; fill-opacity: 0.4; stroke: #e69f00; stroke-opacity: 0.4; stroke-width: 4.166667"/>
     <use href="#m74cac487a1" x="1332.5" y="615.5" style="fill: #e69f00; fill-opacity: 0.4; stroke: #e69f00; stroke-opacity: 0.4; stroke-width: 4.166667"/>
     <use href="#m74cac487a1" x="1336.5" y="451.5" style="fill: #e69f00; fill-opacity: 0.4; stroke: #e69f00; stroke-opacity: 0.4; stroke-width: 4.166667"/>
     <use href="#m74cac487a1" x="1340.5" y="537.5" style="fill: #e69f00; fill-opacity: 0.4; stroke: #e69f00; stroke-opacity: 0.4; stroke-width: 4.166667"/>
     <use href="#m74cac487a1" x="1345.5" y="491.5" style="fill: #e69f00; fill-opacity: 0.4; stroke: #e69f00; stroke-opacity: 0.4; stroke-width: 4.166667"/>
     <use href="#m74cac487a1" x="1349.5" y="559.5" style="fill: #e69f00; fill-opacity: 0.4; stroke: #e69f00; stroke-opacity: 0.4; stroke-width: 4.166667"/>
     <use href="#m74cac487a1" x="1353.5" y="469.5" style="fill: #e69f00; fill-opacity: 0.4; stroke: #e69f00; stroke-opacity: 0.4; stroke-width: 4.166667"/>
     <use href="#m74cac487a1" x="1357.5" y="518.5" style="fill: #e69f00; fill-opacity: 0.4; stroke: #e69f00; stroke-opacity: 0.4; stroke-width: 4.166667"/>
     <use href="#m74cac487a1" x="1361.5" y="505.5" style="fill: #e69f00; fill-opacity: 0.4; stroke: #e69f00; stroke-opacity: 0.4; stroke-width: 4.166667"/>
     <use href="#m74cac487a1" x="1365.5" y="570.5" style="fill: #e69f00; fill-opacity: 0.4; stroke: #e69f00; stroke-opacity: 0.4; stroke-width: 4.166667"/>
     <use href="#m74cac487a1" x="1369.5" y="479.5" style="fill: #e69f00; fill-opacity: 0.4; stroke: #e69f00; stroke-opacity: 0.4; stroke-width: 4.166667"/>
     <use href="#m74cac487a1" x="1373.5" y="499.5" style="fill: #e69f00; fill-opacity: 0.4; stroke: #e69f00; stroke-opacity: 0.4; stroke-width: 4.166667"/>
     <use href="#m74cac487a1" x="1377.5" y="473.5" style="fill: #e69f00; fill-opacity: 0.4; stroke: #e69f00; stroke-opacity: 0.4; stroke-width: 4.166667"/>
     <use href="#m74cac487a1" x="1382.5" y="549.5" style="fill: #e69f00; fill-opacity: 0.4; stroke: #e69f00; stroke-opacity: 0.4; stroke-width: 4.166667"/>
     <use href="#m74cac487a1" x="1386.5" y="542.5" style="fill: #e69f00; fill-opacity: 0.4; stroke: #e69f00; stroke-opacity: 0.4; stroke-width: 4.166667"/>
     <use href="#m74cac487a1" x="1390.5" y="430.5" style="fill: #e69f00; fill-opacity: 0.4; stroke: #e69f00; stroke-opacity: 0.4; stroke-width: 4.166667"/>
     <use href="#m74cac487a1" x="1394.5" y="563.5" style="fill: #e69f00; fill-opacity: 0.4; stroke: #e69f00; stroke-opacity: 0.4; stroke-width: 4.166667"/>
     <use href="#m74cac487a1" x="1398.5" y="524.5" style="fill: #e69f00; fill-opacity: 0.4; stroke: #e69f00; stroke-opacity: 0.4; stroke-width: 4.166667"/>
     <use href="#m74cac487a1" x="1402.5" y="472.5" style="fill: #e69f00; fill-opacity: 0.4; stroke: #e69f00; stroke-opacity: 0.4; stroke-width: 4.166667"/>
     <use href="#m74cac487a1" x="1406.5" y="512.5" style="fill: #e69f00; fill-opacity: 0.4; stroke: #e69f00; stroke-opacity: 0.4; stroke-width: 4.166667"/>
     <use href="#m74cac487a1" x="1410.5" y="491.5" style="fill: #e69f00; fill-opacity: 0.4; stroke: #e69f00; stroke-opacity: 0.4; stroke-width: 4.166667"/>
     <use href="#m74cac487a1" x="1414.5" y="529.5" style="fill: #e69f00; fill-opacity: 0.4; stroke: #e69f00; stroke-opacity: 0.4; stroke-width: 4.166667"/>
     <use href="#m74cac487a1" x="1418.5" y="497.5" style="fill: #e69f00; fill-opacity: 0.4; stroke: #e69f00; stroke-opacity: 0.4; stroke-width: 4.166667"/>
     <use href="#m74cac487a1" x="1423.5" y="562.5" style="fill: #e69f00; fill-opacity: 0.4; stroke: #e69f00; stroke-opacity: 0.4; stroke-width: 4.166667"/>
     <use href="#m74cac487a1" x="1427.5" y="442.5" style="fill: #e69f00; fill-opacity: 0.4; stroke: #e69f00; stroke-opacity: 0.4; stroke-width: 4.166667"/>
     <use href="#m74cac487a1" x="1431.5" y="511.5" style="fill: #e69f00; fill-opacity: 0.4; stroke: #e69f00; stroke-opacity: 0.4; stroke-width: 4.166667"/>
     <use href="#m74cac487a1" x="1435.5" y="531.5" style="fill: #e69f00; fill-opacity: 0.4; stroke: #e69f00; stroke-opacity: 0.4; stroke-width: 4.166667"/>
     <use href="#m74cac487a1" x="1439.5" y="476.5" style="fill: #e69f00; fill-opacity: 0.4; stroke: #e69f00; stroke-opacity: 0.4; stroke-width: 4.166667"/>
     <use href="#m74cac487a1" x="1443.5" y="519.5" style="fill: #e69f00; fill-opacity: 0.4; stroke: #e69f00; stroke-opacity: 0.4; stroke-width: 4.166667"/>
     <use href="#m74cac487a1" x="1447.5" y="552.5" style="fill: #e69f00; fill-opacity: 0.4; stroke: #e69f00; stroke-opacity: 0.4; stroke-width: 4.166667"/>
     <use href="#m74cac487a1" x="1451.5" y="550.5" style="fill: #e69f00; fill-opacity: 0.4; stroke: #e69f00; stroke-opacity: 0.4; stroke-width: 4.166667"/>
     <use href="#m74cac487a1" x="1455.5" y="467.5" style="fill: #e69f00; fill-opacity: 0.4; stroke: #e69f00; stroke-opacity: 0.4; stroke-width: 4.166667"/>
     <use href="#m74cac487a1" x="1460.5" y="499.5" style="fill: #e69f00; fill-opacity: 0.4; stroke: #e69f00; stroke-opacity: 0.4; stroke-width: 4.166667"/>
     <use href="#m74cac487a1" x="1464.5" y="495.5" style="fill: #e69f00; fill-opacity: 0.4; stroke: #e69f00; stroke-opacity: 0.4; stroke-width: 4.166667"/>
     <use href="#m74cac487a1" x="1468.5" y="445.5" style="fill: #e69f00; fill-opacity: 0.4; stroke: #e69f00; stroke-opacity: 0.4; stroke-width: 4.166667"/>
     <use href="#m74cac487a1" x="1472.5" y="531.5" style="fill: #e69f00; fill-opacity: 0.4; stroke: #e69f00; stroke-opacity: 0.4; stroke-width: 4.166667"/>
     <use href="#m74cac487a1" x="1476.5" y="512.5" style="fill: #e69f00; fill-opacity: 0.4; stroke: #e69f00; stroke-opacity: 0.4; stroke-width: 4.166667"/>
     <use href="#m74cac487a1" x="1480.5" y="496.5" style="fill: #e69f00; fill-opacity: 0.4; stroke: #e69f00; stroke-opacity: 0.4; stroke-width: 4.166667"/>
     <use href="#m74cac487a1" x="1484.5" y="475.5" style="fill: #e69f00; fill-opacity: 0.4; stroke: #e69f00; stroke-opacity: 0.4; stroke-width: 4.166667"/>
     <use href="#m74cac487a1" x="1488.5" y="478.5" style="fill: #e69f00; fill-opacity: 0.4; stroke: #e69f00; stroke-opacity: 0.4; stroke-width: 4.166667"/>
     <use href="#m74cac487a1" x="1492.5" y="485.5" style="fill: #e69f00; fill-opacity: 0.4; stroke: #e69f00; stroke-opacity: 0.4; stroke-width: 4.166667"/>
     <use href="#m74cac487a1" x="1496.5" y="473.5" style="fill: #e69f00; fill-opacity: 0.4; stroke: #e69f00; stroke-opacity: 0.4; stroke-width: 4.166667"/>
     <use href="#m74cac487a1" x="1501.5" y="473.5" style="fill: #e69f00; fill-opacity: 0.4; stroke: #e69f00; stroke-opacity: 0.4; stroke-width: 4.166667"/>
     <use href="#m74cac487a1" x="1505.5" y="495.5" style="fill: #e69f00; fill-opacity: 0.4; stroke: #e69f00; stroke-opacity: 0.4; stroke-width: 4.166667"/>
     <use href="#m74cac487a1" x="1509.5" y="496.5" style="fill: #e69f00; fill-opacity: 0.4; stroke: #e69f00; stroke-opacity: 0.4; stroke-width: 4.166667"/>
     <use href="#m74cac487a1" x="1513.5" y="449.5" style="fill: #e69f00; fill-opacity: 0.4; stroke: #e69f00; stroke-opacity: 0.4; stroke-width: 4.166667"/>
     <use href="#m74cac487a1" x="1517.5" y="493.5" style="fill: #e69f00; fill-opacity: 0.4; stroke: #e69f00; stroke-opacity: 0.4; stroke-width: 4.166667"/>
     <use href="#m74cac487a1" x="1521.5" y="501.5" style="fill: #e69f00; fill-opacity: 0.4; stroke: #e69f00; stroke-opacity: 0.4; stroke-width: 4.166667"/>
     <use href="#m74cac487a1" x="1525.5" y="465.5" style="fill: #e69f00; fill-opacity: 0.4; stroke: #e69f00; stroke-opacity: 0.4; stroke-width: 4.166667"/>
     <use href="#m74cac487a1" x="1529.5" y="455.5" style="fill: #e69f00; fill-opacity: 0.4; stroke: #e69f00; stroke-opacity: 0.4; stroke-width: 4.166667"/>
     <use href="#m74cac487a1" x="1533.5" y="356.5" style="fill: #e69f00; fill-opacity: 0.4; stroke: #e69f00; stroke-opacity: 0.4; stroke-width: 4.166667"/>
     <use href="#m74cac487a1" x="1538.5" y="471.5" style="fill: #e69f00; fill-opacity: 0.4; stroke: #e69f00; stroke-opacity: 0.4; stroke-width: 4.166667"/>
     <use href="#m74cac487a1" x="1542.5" y="403.5" style="fill: #e69f00; fill-opacity: 0.4; stroke: #e69f00; stroke-opacity: 0.4; stroke-width: 4.166667"/>
     <use href="#m74cac487a1" x="1546.5" y="408.5" style="fill: #e69f00; fill-opacity: 0.4; stroke: #e69f00; stroke-opacity: 0.4; stroke-width: 4.166667"/>
     <use href="#m74cac487a1" x="1550.5" y="482.5" style="fill: #e69f00; fill-opacity: 0.4; stroke: #e69f00; stroke-opacity: 0.4; stroke-width: 4.166667"/>
     <use href="#m74cac487a1" x="1554.5" y="400.5" style="fill: #e69f00; fill-opacity: 0.4; stroke: #e69f00; stroke-opacity: 0.4; stroke-width: 4.166667"/>
     <use href="#m74cac487a1" x="1558.5" y="475.5" style="fill: #e69f00; fill-opacity: 0.4; stroke: #e69f00; stroke-opacity: 0.4; stroke-width: 4.166667"/>
     <use href="#m74cac487a1" x="1562.5" y="531.5" style="fill: #e69f00; fill-opacity: 0.4; stroke: #e69f00; stroke-opacity: 0.4; stroke-width: 4.166667"/>
     <use href="#m74cac487a1" x="1566.5" y="398.5" style="fill: #e69f00; fill-opacity: 0.4; stroke: #e69f00; stroke-opacity: 0.4; stroke-width: 4.166667"/>
     <use href="#m74cac487a1" x="1570.5" y="489.5" style="fill: #e69f00; fill-opacity: 0.4; stroke: #e69f00; stroke-opacity: 0.4; stroke-width: 4.166667"/>
     <use href="#m74cac487a1" x="1574.5" y="397.5" style="fill: #e69f00; fill-opacity: 0.4; stroke: #e69f00; stroke-opacity: 0.4; stroke-width: 4.166667"/>
     <use href="#m74cac487a1" x="1579.5" y="439.5" style="fill: #e69f00; fill-opacity: 0.4; stroke: #e69f00; stroke-opacity: 0.4; stroke-width: 4.166667"/>
     <use href="#m74cac487a1" x="1583.5" y="343.5" style="fill: #e69f00; fill-opacity: 0.4; stroke: #e69f00; stroke-opacity: 0.4; stroke-width: 4.166667"/>
     <use href="#m74cac487a1" x="1587.5" y="363.5" style="fill: #e69f00; fill-opacity: 0.4; stroke: #e69f00; stroke-opacity: 0.4; stroke-width: 4.166667"/>
     <use href="#m74cac487a1" x="1591.5" y="420.5" style="fill: #e69f00; fill-opacity: 0.4; stroke: #e69f00; stroke-opacity: 0.4; stroke-width: 4.166667"/>
     <use href="#m74cac487a1" x="1595.5" y="426.5" style="fill: #e69f00; fill-opacity: 0.4; stroke: #e69f00; stroke-opacity: 0.4; stroke-width: 4.166667"/>
     <use href="#m74cac487a1" x="1599.5" y="444.5" style="fill: #e69f00; fill-opacity: 0.4; stroke: #e69f00; stroke-opacity: 0.4; stroke-width: 4.166667"/>
     <use href="#m74cac487a1" x="1603.5" y="410.5" style="fill: #e69f00; fill-opacity: 0.4; stroke: #e69f00; stroke-opacity: 0.4; stroke-width: 4.166667"/>
     <use href="#m74cac487a1" x="1607.5" y="400.5" style="fill: #e69f00; fill-opacity: 0.4; stroke: #e69f00; stroke-opacity: 0.4; stroke-width: 4.166667"/>
     <use href="#m74cac487a1" x="1611.5" y="400.5" style="fill: #e69f00; fill-opacity: 0.4; stroke: #e69f00; stroke-opacity: 0.4; stroke-width: 4.166667"/>
     <use href="#m74cac487a1" x="1616.5" y="376.5" style="fill: #e69f00; fill-opacity: 0.4; stroke: #e69f00; stroke-opacity: 0.4; stroke-width: 4.166667"/>
     <use href="#m74cac487a1" x="1620.5" y="355.5" style="fill: #e69f00; fill-opacity: 0.4; stroke: #e69f00; stroke-opacity: 0.4; stroke-width: 4.166667"/>
     <use href="#m74cac487a1" x="1624.5" y="361.5" style="fill: #e69f00; fill-opacity: 0.4; stroke: #e69f00; stroke-opacity: 0.4; stroke-width: 4.166667"/>
     <use href="#m74cac487a1" x="1628.5" y="402.5" style="fill: #e69f00; fill-opacity: 0.4; stroke: #e69f00; stroke-opacity: 0.4; stroke-width: 4.166667"/>
     <use href="#m74cac487a1" x="1632.5" y="425.5" style="fill: #e69f00; fill-opacity: 0.4; stroke: #e69f00; stroke-opacity: 0.4; stroke-width: 4.166667"/>
     <use href="#m74cac487a1" x="1636.5" y="310.5" style="fill: #e69f00; fill-opacity: 0.4; stroke: #e69f00; stroke-opacity: 0.4; stroke-width: 4.166667"/>
     <use href="#m74cac487a1" x="1640.5" y="388.5" style="fill: #e69f00; fill-opacity: 0.4; stroke: #e69f00; stroke-opacity: 0.4; stroke-width: 4.166667"/>
     <use href="#m74cac487a1" x="1644.5" y="383.5" style="fill: #e69f00; fill-opacity: 0.4; stroke: #e69f00; stroke-opacity: 0.4; stroke-width: 4.166667"/>
     <use href="#m74cac487a1" x="1648.5" y="374.5" style="fill: #e69f00; fill-opacity: 0.4; stroke: #e69f00; stroke-opacity: 0.4; stroke-width: 4.166667"/>
     <use href="#m74cac487a1" x="1652.5" y="423.5" style="fill: #e69f00; fill-opacity: 0.4; stroke: #e69f00; stroke-opacity: 0.4; stroke-width: 4.166667"/>
     <use href="#m74cac487a1" x="1657.5" y="365.5" style="fill: #e69f00; fill-opacity: 0.4; stroke: #e69f00; stroke-opacity: 0.4; stroke-width: 4.166667"/>
     <use href="#m74cac487a1" x="1661.5" y="362.5" style="fill: #e69f00; fill-opacity: 0.4; stroke: #e69f00; stroke-opacity: 0.4; stroke-width: 4.166667"/>
     <use href="#m74cac487a1" x="1665.5" y="314.5" style="fill: #e69f00; fill-opacity: 0.4; stroke: #e69f00; stroke-opacity: 0.4; stroke-width: 4.166667"/>
     <use href="#m74cac487a1" x="1669.5" y="308.5" style="fill: #e69f00; fill-opacity: 0.4; stroke: #e69f00; stroke-opacity: 0.4; stroke-width: 4.166667"/>
     <use href="#m74cac487a1" x="1673.5" y="332.5" style="fill: #e69f00; fill-opacity: 0.4; stroke: #e69f00; stroke-opacity: 0.4; stroke-width: 4.166667"/>
     <use href="#m74cac487a1" x="1677.5" y="291.5" style="fill: #e69f00; fill-opacity: 0.4; stroke: #e69f00; stroke-opacity: 0.4; stroke-width: 4.166667"/>
     <use href="#m74cac487a1" x="1681.5" y="311.5" style="fill: #e69f00; fill-opacity: 0.4; stroke: #e69f00; stroke-opacity: 0.4; stroke-width: 4.166667"/>
     <use href="#m74cac487a1" x="1685.5" y="322.5" style="fill: #e69f00; fill-opacity: 0.4; stroke: #e69f00; stroke-opacity: 0.4; stroke-width: 4.166667"/>
    </g>
   </g>
   <g id="matplotlib.axis_1">
    <g id="xtick_1">
     <g id="line2d_1">
      <path d="M 191 673 L 191 71" clip-path="url(#p6c6bb15aff)" style="fill: none; stroke-dasharray: 6.166667,2.666667; stroke-dashoffset: 0; stroke: #c0c0c0; stroke-width: 1.666667"/>
     </g>
     <g id="line2d_2">
      <defs>
       <path id="m4ed1109bf0" d="M 0 0 L 0 -10" style="stroke: #000000; stroke-width: 2.222222"/>
      </defs>
      <g>
       <use href="#m4ed1109bf0" x="191" y="673" style="stroke: #000000; stroke-width: 2.222222"/>
      </g>
     </g>
     <g id="text_1">
      <text style="font-size: 33.333333px; font-family: 'DejaVu Sans', sans-serif; text-anchor: middle; fill: #1a1a1a" x="191.164773" y="708.888889">0</text>
     </g>
    </g>
    <g id="xtick_2">
     <g id="line2d_3">
      <path d="M 396 673 L 396 71" clip-path="url(#p6c6bb15aff)" style="fill: none; stroke-dasharray: 6.166667,2.666667; stroke-dashoffset: 0; stroke: #c0c0c0; stroke-width: 1.666667"/>
     </g>
     <g id="line2d_4">
      <g>
       <use href="#m4ed1109bf0" x="396" y="673" style="stroke: #000000; stroke-width: 2.222222"/>
      </g>
     </g>
     <g id="text_2">
      <text style="font-size: 33.333333px; font-family: 'DejaVu Sans', sans-serif; text-anchor: middle; fill: #1a1a1a" x="396.402244" y="708.888889">50</text>
     </g>
    </g>
    <g id="xtick_3">
     <g id="line2d_5">
      <path d="M 602 673 L 602 71" clip-path="url(#p6c6bb15aff)" style="fill: none; stroke-dasharray: 6.166667,2.666667; stroke-dashoffset: 0; stroke: #c0c0c0; stroke-width: 1.666667"/>
     </g>
     <g id="line2d_6">
      <g>
       <use href="#m4ed1109bf0" x="602" y="673" style="stroke: #000000; stroke-width: 2.222222"/>
      </g>
     </g>
     <g id="text_3">
      <text style="font-size: 33.333333px; font-family: 'DejaVu Sans', sans-serif; text-anchor: middle; fill: #1a1a1a" x="601.639714" y="708.888889">100</text>
     </g>
    </g>
    <g id="xtick_4">
     <g id="line2d_7">
      <path d="M 807 673 L 807 71" clip-path="url(#p6c6bb15aff)" style="fill: none; stroke-dasharray: 6.166667,2.666667; stroke-dashoffset: 0; stroke: #c0c0c0; stroke-width: 1.666667"/>
     </g>
     <g id="line2d_8">
      <g>
       <use href="#m4ed1109bf0" x="807" y="673" style="stroke: #000000; stroke-width: 2.222222"/>
      </g>
     </g>
     <g id="text_4">
      <text style="font-size: 33.333333px; font-family: 'DejaVu Sans', sans-serif; text-anchor: middle; fill: #1a1a1a" x="806.877185" y="708.888889">150</text>
     </g>
    </g>
    <g id="xtick_5">
     <g id="line2d_9">
      <path d="M 1012 673 L 1012 71" clip-path="url(#p6c6bb15aff)" style="fill: none; stroke-dasharray: 6.166667,2.666667; stroke-dashoffset: 0; stroke: #c0c0c0; stroke-width: 1.666667"/>
     </g>
     <g id="line2d_10">
      <g>
       <use href="#m4ed1109bf0" x="1012" y="673" style="stroke: #000000; stroke-width: 2.222222"/>
      </g>
     </g>
     <g id="text_5">
      <text style="font-size: 33.333333px; font-family: 'DejaVu Sans', sans-serif; text-anchor: middle; fill: #1a1a1a" x="1012.114656" y="708.888889">200</text>
     </g>
    </g>
    <g id="xtick_6">
     <g id="line2d_11">
      <path d="M 1217 673 L 1217 71" clip-path="url(#p6c6bb15aff)" style="fill: none; stroke-dasharray: 6.166667,2.666667; stroke-dashoffset: 0; stroke: #c0c0c0; stroke-width: 1.666667"/>
     </g>
     <g id="line2d_12">
      <g>
       <use href="#m4ed1109bf0" x="1217" y="673" style="stroke: #000000; stroke-width: 2.222222"/>
      </g>
     </g>
     <g id="text_6">
      <text style="font-size: 33.333333px; font-family: 'DejaVu Sans', sans-serif; text-anchor: middle; fill: #1a1a1a" x="1217.352127" y="708.888889">250</text>
     </g>
    </g>
    <g id="xtick_7">
     <g id="line2d_13">
      <path d="M 1423 673 L 1423 71" clip-path="url(#p6c6bb15aff)" style="fill: none; stroke-dasharray: 6.166667,2.666667; stroke-dashoffset: 0; stroke: #c0c0c0; stroke-width: 1.666667"/>
     </g>
     <g id="line2d_14">
      <g>
       <use href="#m4ed1109bf0" x="1423" y="673" style="stroke: #000000; stroke-width: 2.222222"/>
      </g>
     </g>
     <g id="text_7">
      <text style="font-size: 33.333333px; font-family: 'DejaVu Sans', sans-serif; text-anchor: middle; fill: #1a1a1a" x="1422.589598" y="708.888889">300</text>
     </g>
    </g>
    <g id="xtick_8">
     <g id="line2d_15">
      <path d="M 1628 673 L 1628 71" clip-path="url(#p6c6bb15aff)" style="fill: none; stroke-dasharray: 6.166667,2.666667; stroke-dashoffset: 0; stroke: #c0c0c0; stroke-width: 1.666667"/>
     </g>
     <g id="line2d_16">
      <g>
       <use href="#m4ed1109bf0" x="1628" y="673" style="stroke: #000000; stroke-width: 2.222222"/>
      </g>
     </g>
     <g id="text_8">
      <text style="font-size: 33.333333px; font-family: 'DejaVu Sans', sans-serif; text-anchor: middle; fill: #1a1a1a" x="1627.827069" y="708.888889">350</text>
     </g>
    </g>
    <g id="text_9">
     <text style="font-size: 33.333333px; font-family: 'DejaVu Sans', sans-serif; text-anchor: middle; fill: #1a1a1a" x="938.829" y="753">days</text>
    </g>
   </g>
   <g id="matplotlib.axis_2">
    <g id="ytick_1">
     <g id="line2d_17">
      <path d="M 116 589 L 1760 589" clip-path="url(#p6c6bb15aff)" style="fill: none; stroke-dasharray: 6.166667,2.666667; stroke-dashoffset: 0; stroke: #c0c0c0; stroke-width: 1.666667"/>
     </g>
     <g id="line2d_18">
      <defs>
       <path id="mef256f5531" d="M 0 0 L 10 0" style="stroke: #000000; stroke-width: 2.222222"/>
      </defs>
      <g>
       <use href="#mef256f5531" x="116" y="589" style="stroke: #000000; stroke-width: 2.222222"/>
      </g>
     </g>
     <g id="text_10">
      <text style="font-size: 33.333333px; font-family: 'DejaVu Sans', sans-serif; text-anchor: end; fill: #1a1a1a" x="106.736111" y="602.49803">0</text>
     </g>
    </g>
    <g id="ytick_2">
     <g id="line2d_19">
      <path d="M 116 490 L 1760 490" clip-path="url(#p6c6bb15aff)" style="fill: none; stroke-dasharray: 6.166667,2.666667; stroke-dashoffset: 0; stroke: #c0c0c0; stroke-width: 1.666667"/>
     </g>
     <g id="line2d_20">
      <g>
       <use href="#mef256f5531" x="116" y="490" style="stroke: #000000; stroke-width: 2.222222"/>
      </g>
     </g>
     <g id="text_11">
      <text style="font-size: 33.333333px; font-family: 'DejaVu Sans', sans-serif; text-anchor: end; fill: #1a1a1a" x="106.736111" y="502.847503">5</text>
     </g>
    </g>
    <g id="ytick_3">
     <g id="line2d_21">
      <path d="M 116 390 L 1760 390" clip-path="url(#p6c6bb15aff)" style="fill: none; stroke-dasharray: 6.166667,2.666667; stroke-dashoffset: 0; stroke: #c0c0c0; stroke-width: 1.666667"/>
     </g>
     <g id="line2d_22">
      <g>
       <use href="#mef256f5531" x="116" y="390" style="stroke: #000000; stroke-width: 2.222222"/>
      </g>
     </g>
     <g id="text_12">
      <text style="font-size: 33.333333px; font-family: 'DejaVu Sans', sans-serif; text-anchor: end; fill: #1a1a1a" x="106.736111" y="403.196975">10</text>
     </g>
    </g>
    <g id="ytick_4">
     <g id="line2d_23">
      <path d="M 116 291 L 1760 291" clip-path="url(#p6c6bb15aff)" style="fill: none; stroke-dasharray: 6.166667,2.666667; stroke-dashoffset: 0; stroke: #c0c0c0; stroke-width: 1.666667"/>
     </g>
     <g id="line2d_24">
      <g>
       <use href="#mef256f5531" x="116" y="291" style="stroke: #000000; stroke-width: 2.222222"/>
      </g>
     </g>
     <g id="text_13">
      <text style="font-size: 33.333333px; font-family: 'DejaVu Sans', sans-serif; text-anchor: end; fill: #1a1a1a" x="106.736111" y="303.546447">15</text>
     </g>
    </g>
    <g id="ytick_5">
     <g id="line2d_25">
      <path d="M 116 191 L 1760 191" clip-path="url(#p6c6bb15aff)" style="fill: none; stroke-dasharray: 6.166667,2.666667; stroke-dashoffset: 0; stroke: #c0c0c0; stroke-width: 1.666667"/>
     </g>
     <g id="line2d_26">
      <g>
       <use href="#mef256f5531" x="116" y="191" style="stroke: #000000; stroke-width: 2.222222"/>
      </g>
     </g>
     <g id="text_14">
      <text style="font-size: 33.333333px; font-family: 'DejaVu Sans', sans-serif; text-anchor: end; fill: #1a1a1a" x="106.736111" y="203.895919">20</text>
     </g>
    </g>
    <g id="ytick_6">
     <g id="line2d_27">
      <path d="M 116 91 L 1760 91" clip-path="url(#p6c6bb15aff)" style="fill: none; stroke-dasharray: 6.166667,2.666667; stroke-dashoffset: 0; stroke: #c0c0c0; stroke-width: 1.666667"/>
     </g>
     <g id="line2d_28">
      <g>
       <use href="#mef256f5531" x="116" y="91" style="stroke: #000000; stroke-width: 2.222222"/>
      </g>
     </g>
     <g id="text_15">
      <text style="font-size: 33.333333px; font-family: 'DejaVu Sans', sans-serif; text-anchor: end; fill: #1a1a1a" x="106.736111" y="104.245391">25</text>
     </g>
    </g>
    <g id="text_16">
     <text style="font-size: 33.333333px; font-family: 'DejaVu Sans', sans-serif; text-anchor: middle; fill: #1a1a1a" x="46" y="373.317" transform="rotate(-90 46 373.317)">value</text>
    </g>
   </g>
   <g id="line2d_29">
    <path d="M 191.164773 562.536375 
L 195.269522 543.344406 
L 199.374272 523.402506 
L 203.479021 500.061129 
L 207.58377 480.179628 
L 211.68852 473.263875 
L 215.793269 458.995704 
L 219.898019 450.183875 
L 224.002768 441.701196 
L 228.107517 431.659357 
L 232.212267 423.325767 
L 236.317016 410.245513 
L 240.421766 400.880232 
L 244.526515 394.644896 
L 248.631265 387.395061 
L 252.736014 380.95705 
L 256.840763 370.186575 
L 260.945513 366.917083 
L 265.050262 361.561324 
L 269.155012 361.047722 
L 273.259761 367.013449 
L 277.36451 359.25913 
L 281.46926 351.100142 
L 285.574009 349.823406 
L 289.678759 336.333452 
L 293.783508 338.703972 
L 297.888258 334.527432 
L 301.993007 331.369134 
L 306.097756 321.345579 
L 310.202506 312.254634 
L 314.307255 308.992343 
L 318.412005 304.849743 
L 322.516754 305.853707 
L 326.621503 310.803337 
L 330.726253 308.441768 
L 334.831002 304.002099 
L 338.935752 295.424728 
L 343.040501 287.518861 
L 347.145251 286.446213 
L 351.25 284.851543 
L 355.354749 286.104203 
L 359.459499 288.429312 
L 363.564248 291.383795 
L 367.668998 279.190554 
L 371.773747 277.752722 
L 375.878497 275.906187 
L 379.983246 277.228758 
L 384.087995 270.06747 
L 388.192745 272.899867 
L 392.297494 269.613758 
L 396.402244 269.131808 
L 400.506993 263.345169 
L 404.611742 261.478685 
L 408.716492 262.236613 
L 412.821241 258.097547 
L 416.925991 252.329935 
L 421.03074 248.3633 
L 425.13549 243.639674 
L 429.240239 242.914265 
L 433.344988 240.97561 
L 437.449738 240.267125 
L 441.554487 238.189063 
L 445.659237 237.938792 
L 449.763986 241.170454 
L 453.868735 236.313072 
L 457.973485 234.077775 
L 462.078234 236.795432 
L 466.182984 230.736942 
L 470.287733 230.589153 
L 474.392483 226.481699 
L 478.497232 219.940474 
L 482.601981 216.305528 
L 486.706731 208.872194 
L 490.81148 211.517159 
L 494.91623 207.24871 
L 499.020979 207.623028 
L 503.125728 208.589451 
L 507.230478 208.189416 
L 511.335227 206.663554 
L 515.439977 203.729921 
L 519.544726 205.868988 
L 523.649476 199.476068 
L 527.754225 195.379771 
L 531.858974 199.601333 
L 535.963724 191.27947 
L 540.068473 182.10524 
L 544.173223 176.653013 
L 548.277972 177.113882 
L 552.382721 181.037461 
L 556.487471 176.061408 
L 560.59222 177.362836 
L 564.69697 172.029997 
L 568.801719 171.254492 
L 572.906469 167.481274 
L 577.011218 166.551152 
L 581.115967 164.317364 
L 585.220717 165.086665 
L 589.325466 158.713404 
L 593.430216 159.607023 
L 597.534965 159.337591 
L 601.639714 153.219792 
L 605.744464 160.626715 
L 609.849213 167.02522 
L 613.953963 163.901755 
L 618.058712 169.682647 
L 622.163462 162.519685 
L 626.268211 165.532415 
L 630.37296 169.643651 
L 634.47771 162.774297 
L 638.582459 158.435857 
L 642.687209 153.074581 
L 646.791958 152.173737 
L 650.896707 158.504608 
L 655.001457 153.258758 
L 659.106206 157.327603 
L 663.210956 156.836431 
L 667.315705 155.93638 
L 671.420455 159.644515 
L 675.525204 160.046103 
L 679.629953 159.314496 
L 683.734703 160.971955 
L 687.839452 168.49195 
L 691.944202 169.839682 
L 696.048951 167.110275 
L 700.1537 172.870271 
L 704.25845 176.048042 
L 708.363199 180.216947 
L 712.467949 175.038932 
L 716.572698 175.250672 
L 720.677448 176.682158 
L 724.782197 182.853543 
L 728.886946 183.384063 
L 732.991696 188.898104 
L 737.096445 191.24968 
L 741.201195 196.235639 
L 745.305944 195.704772 
L 749.410693 195.841818 
L 753.515443 199.314836 
L 757.620192 200.257036 
L 761.724942 207.269826 
L 765.829691 215.401927 
L 769.934441 215.262527 
L 774.03919 216.465314 
L 778.143939 215.925917 
L 782.248689 208.721135 
L 786.353438 208.223708 
L 790.458188 215.435146 
L 794.562937 214.093811 
L 798.667686 222.847033 
L 802.772436 227.585628 
L 806.877185 230.551753 
L 810.981935 226.392231 
L 819.191434 239.023049 
L 823.296183 242.07338 
L 827.400932 247.354943 
L 831.505682 245.259669 
L 839.715181 259.498899 
L 843.81993 263.300684 
L 847.924679 267.258904 
L 852.029429 261.443816 
L 856.134178 260.417954 
L 860.238928 263.233122 
L 864.343677 271.305325 
L 868.448427 270.626856 
L 872.553176 277.677323 
L 876.657925 286.50357 
L 880.762675 283.865962 
L 884.867424 285.27752 
L 888.972174 284.45529 
L 893.076923 286.431244 
L 897.181672 286.381727 
L 901.286422 292.665584 
L 905.391171 300.167605 
L 909.495921 300.399959 
L 913.60067 306.848994 
L 917.70542 312.520596 
L 921.810169 317.014116 
L 925.914918 319.495184 
L 930.019668 323.531534 
L 934.124417 331.556749 
L 938.229167 336.187431 
L 942.333916 346.975246 
L 946.438666 345.652658 
L 950.543415 353.663294 
L 954.648164 359.211814 
L 958.752914 359.91779 
L 962.857663 364.03089 
L 966.962413 358.955595 
L 971.067162 366.012333 
L 975.171911 366.46547 
L 979.276661 368.413383 
L 983.38141 374.984044 
L 987.48616 374.472817 
L 991.590909 377.098144 
L 995.695659 376.015369 
L 999.800408 375.147972 
L 1003.905157 369.338888 
L 1008.009907 367.716204 
L 1012.114656 373.363345 
L 1016.219406 378.235183 
L 1020.324155 377.58736 
L 1024.428904 379.078705 
L 1028.533654 380.782206 
L 1032.638403 391.610992 
L 1036.743153 395.305248 
L 1040.847902 401.769203 
L 1044.952652 403.821035 
L 1049.057401 407.464052 
L 1053.16215 407.010298 
L 1057.2669 409.249534 
L 1061.371649 409.676242 
L 1065.476399 415.332162 
L 1069.581148 422.603361 
L 1073.685897 427.289722 
L 1077.790647 430.210088 
L 1081.895396 431.52531 
L 1086.000146 425.477402 
L 1090.104895 429.467726 
L 1094.209645 436.956876 
L 1098.314394 441.51811 
L 1102.419143 446.340726 
L 1106.523893 447.15896 
L 1110.628642 456.197403 
L 1114.733392 458.175506 
L 1118.838141 459.817496 
L 1122.94289 461.223 
L 1127.04764 466.019604 
L 1131.152389 469.125084 
L 1135.257139 476.864845 
L 1143.466638 483.860397 
L 1147.571387 483.416337 
L 1151.676136 489.482844 
L 1155.780886 487.414895 
L 1159.885635 482.90056 
L 1163.990385 493.231001 
L 1168.095134 492.758846 
L 1172.199883 491.510521 
L 1176.304633 495.796861 
L 1180.409382 498.863154 
L 1184.514132 500.729846 
L 1192.723631 505.662435 
L 1196.82838 513.452336 
L 1200.933129 509.329852 
L 1205.037879 506.044617 
L 1209.142628 510.76325 
L 1213.247378 517.737671 
L 1217.352127 516.211638 
L 1221.456876 519.32403 
L 1225.561626 519.372536 
L 1229.666375 521.357657 
L 1233.771125 519.212183 
L 1237.875874 517.360147 
L 1241.980624 521.440932 
L 1246.085373 527.815964 
L 1250.190122 534.423794 
L 1254.294872 531.697332 
L 1258.399621 536.478705 
L 1262.504371 538.120948 
L 1266.60912 540.007588 
L 1270.713869 539.584273 
L 1274.818619 546.752098 
L 1278.923368 544.767081 
L 1283.028118 541.67343 
L 1287.132867 540.647708 
L 1291.237617 541.333119 
L 1295.342366 540.333584 
L 1299.447115 538.236782 
L 1303.551865 548.991134 
L 1307.656614 539.815484 
L 1311.761364 537.786239 
L 1315.866113 540.096899 
L 1319.970862 541.109968 
L 1324.075612 538.465052 
L 1328.180361 538.479321 
L 1332.285111 546.081661 
L 1336.38986 536.552351 
L 1340.49461 536.591869 
L 1344.599359 532.060683 
L 1348.704108 534.742007 
L 1352.808858 528.201231 
L 1356.913607 527.219951 
L 1361.018357 524.96825 
L 1365.123106 529.446135 
L 1369.227855 524.387553 
L 1373.332605 521.812471 
L 1377.437354 516.949234 
L 1381.542104 520.153265 
L 1385.646853 522.333221 
L 1389.751603 513.071202 
L 1393.856352 518.015339 
L 1397.961101 518.647381 
L 1402.065851 514.00276 
L 1406.1706 513.819341 
L 1410.27535 511.569252 
L 1414.380099 513.303732 
L 1418.484848 511.635785 
L 1422.589598 516.650454 
L 1426.694347 509.174083 
L 1430.799097 509.348044 
L 1434.903846 511.561934 
L 1439.008596 507.998965 
L 1443.113345 509.091779 
L 1447.218094 513.359013 
L 1451.322844 517.045925 
L 1455.427593 512.022481 
L 1459.532343 510.689706 
L 1463.637092 509.169096 
L 1467.741841 502.748923 
L 1471.846591 505.530717 
L 1475.95134 506.223095 
L 1480.05609 505.231088 
L 1484.160839 502.186721 
L 1488.265589 499.745162 
L 1492.370338 498.272977 
L 1496.475087 495.795549 
L 1500.579837 493.489101 
L 1508.789336 493.787577 
L 1512.894085 489.358527 
L 1516.998834 489.742602 
L 1521.103584 490.871183 
L 1525.208333 488.235514 
L 1529.313083 484.960367 
L 1533.417832 472.098544 
L 1537.522582 472.033229 
L 1541.627331 465.108152 
L 1545.73208 459.356217 
L 1549.83683 461.592681 
L 1553.941579 455.476613 
L 1558.046329 457.462625 
L 1562.151078 464.816787 
L 1566.255828 458.102417 
L 1570.360577 461.15559 
L 1574.465326 454.784455 
L 1578.570076 453.249071 
L 1582.674825 442.197814 
L 1586.779575 434.277106 
L 1590.884324 432.88183 
L 1594.989073 432.225296 
L 1599.093823 433.394425 
L 1603.198572 431.025053 
L 1607.303322 427.910729 
L 1611.408071 425.100151 
L 1615.512821 420.146574 
L 1619.61757 413.659424 
L 1623.722319 408.383997 
L 1627.827069 407.72487 
L 1631.931818 409.464454 
L 1636.036568 399.506175 
L 1640.141317 398.375841 
L 1644.246066 396.854132 
L 1648.350816 394.60459 
L 1652.455565 397.490616 
L 1660.665064 391.051056 
L 1668.874563 375.827608 
L 1672.979312 371.425986 
L 1677.084062 363.402804 
L 1681.188811 358.178512 
L 1685.293561 354.531373 
L 1685.293561 354.531373 
" clip-path="url(#p6c6bb15aff)" style="fill: none; stroke: #e69f00; stroke-width: 4.166667; stroke-linecap: square"/>
   </g>
   <g id="line2d_30">
    <path d="M 191.164773 319.881476 
L 195.269522 324.954996 
L 199.374272 326.852037 
L 203.479021 323.165708 
L 207.58377 320.973749 
L 211.68852 329.978584 
L 215.793269 330.038942 
L 219.898019 334.122789 
L 224.002768 337.246218 
L 228.107517 337.649878 
L 232.212267 338.717235 
L 236.317016 334.097835 
L 240.421766 332.347321 
L 244.526515 332.965276 
L 248.631265 331.883403 
L 252.736014 330.996558 
L 256.840763 325.222132 
L 260.945513 326.449084 
L 265.050262 325.140125 
L 269.155012 328.268643 
L 273.259761 337.512279 
L 277.36451 332.708076 
L 281.46926 327.204193 
L 285.574009 328.317052 
L 289.678759 316.977734 
L 293.783508 321.283825 
L 297.888258 318.8493 
L 301.993007 317.258815 
L 306.097756 308.646292 
L 310.202506 300.825276 
L 314.307255 298.70592 
L 318.412005 295.591963 
L 322.516754 297.521705 
L 326.621503 303.304535 
L 330.726253 301.692847 
L 334.831002 297.92807 
L 338.935752 289.958101 
L 343.040501 282.598897 
L 347.145251 282.018246 
L 351.25 280.866372 
L 355.354749 282.51755 
L 359.459499 285.201324 
L 363.564248 288.478606 
L 367.668998 276.575884 
L 371.773747 275.399518 
L 375.878497 273.788304 
L 379.983246 275.322664 
L 384.087995 268.351985 
L 388.192745 271.355931 
L 392.297494 268.224215 
L 396.402244 267.881219 
L 400.506993 262.219639 
L 404.611742 260.465709 
L 408.716492 261.324934 
L 412.821241 257.277036 
L 416.925991 251.591475 
L 421.03074 247.698686 
L 425.13549 243.041521 
L 429.240239 242.375928 
L 433.344988 240.491106 
L 437.449738 239.831072 
L 441.554487 237.796615 
L 445.659237 237.585589 
L 449.763986 240.852571 
L 453.868735 236.026978 
L 457.973485 233.82029 
L 462.078234 236.563695 
L 466.182984 230.528379 
L 470.287733 230.401447 
L 474.392483 226.312763 
L 478.497232 219.788432 
L 482.601981 216.16869 
L 486.706731 208.74904 
L 490.81148 211.40632 
L 494.91623 207.148955 
L 499.020979 207.533248 
L 503.125728 208.50865 
L 507.230478 208.116695 
L 511.335227 206.598105 
L 515.439977 203.671016 
L 519.544726 205.815974 
L 523.649476 199.428355 
L 527.754225 195.33683 
L 531.858974 199.562686 
L 535.963724 191.244688 
L 540.068473 182.073935 
L 544.173223 176.624839 
L 548.277972 177.088526 
L 552.382721 181.014641 
L 556.487471 176.04087 
L 560.59222 177.344351 
L 564.69697 172.013361 
L 568.801719 171.239519 
L 572.906469 167.467798 
L 577.011218 166.539024 
L 581.115967 164.306449 
L 585.220717 165.076841 
L 589.325466 158.704563 
L 593.430216 159.599065 
L 597.534965 159.33043 
L 601.639714 153.213347 
L 605.744464 160.620914 
L 609.849213 167.02 
L 613.953963 163.897056 
L 618.058712 169.678418 
L 622.163462 162.51588 
L 626.268211 165.52899 
L 630.37296 169.640568 
L 634.47771 162.771522 
L 638.582459 158.43336 
L 642.687209 153.072334 
L 646.791958 152.171714 
L 650.896707 158.502788 
L 655.001457 153.257119 
L 659.106206 157.326128 
L 663.210956 156.835104 
L 667.315705 155.935186 
L 671.420455 159.64344 
L 675.525204 160.045136 
L 679.629953 159.313626 
L 683.734703 160.971172 
L 687.839452 168.491245 
L 691.944202 169.839048 
L 696.048951 167.109704 
L 700.1537 172.869757 
L 704.25845 176.047579 
L 708.363199 180.21653 
L 712.467949 175.038558 
L 716.572698 175.250334 
L 720.677448 176.681855 
L 724.782197 182.85327 
L 728.886946 183.383817 
L 732.991696 188.897883 
L 737.096445 191.249481 
L 741.201195 196.235459 
L 745.305944 195.70461 
L 749.410693 195.841673 
L 753.515443 199.314706 
L 757.620192 200.256919 
L 761.724942 207.26972 
L 765.829691 215.401832 
L 769.934441 215.262441 
L 774.03919 216.465237 
L 778.143939 215.925848 
L 782.248689 208.721073 
L 786.353438 208.223652 
L 790.458188 215.435095 
L 794.562937 214.093765 
L 798.667686 222.846992 
L 802.772436 227.585591 
L 806.877185 230.55172 
L 810.981935 226.392202 
L 819.191434 239.023025 
L 823.296183 242.073358 
L 827.400932 247.354924 
L 831.505682 245.259652 
L 839.715181 259.498885 
L 843.81993 263.300671 
L 847.924679 267.258893 
L 852.029429 261.443806 
L 856.134178 260.417944 
L 860.238928 263.233113 
L 864.343677 271.305317 
L 868.448427 270.626849 
L 872.553176 277.677317 
L 876.657925 286.503564 
L 880.762675 283.865957 
L 884.867424 285.277515 
L 888.972174 284.455286 
L 893.076923 286.43124 
L 897.181672 286.381724 
L 901.286422 292.665581 
L 905.391171 300.167603 
L 909.495921 300.399956 
L 913.60067 306.848992 
L 917.70542 312.520594 
L 921.810169 317.014115 
L 925.914918 319.495183 
L 930.019668 323.531532 
L 934.124417 331.556748 
L 938.229167 336.18743 
L 942.333916 346.975245 
L 946.438666 345.652657 
L 950.543415 353.663293 
L 954.648164 359.211814 
L 958.752914 359.91779 
L 962.857663 364.030889 
L 966.962413 358.955595 
L 971.067162 366.012333 
L 975.171911 366.46547 
L 979.276661 368.413383 
L 983.38141 374.984044 
L 987.48616 374.472816 
L 991.590909 377.098143 
L 995.695659 376.015369 
L 999.800408 375.147972 
L 1003.905157 369.338888 
L 1008.009907 367.716204 
L 1012.114656 373.363344 
L 1016.219406 378.235183 
L 1020.324155 377.58736 
L 1024.428904 379.078705 
L 1028.533654 380.782206 
L 1032.638403 391.610991 
L 1036.743153 395.305248 
L 1040.847902 401.769203 
L 1044.952652 403.821035 
L 1049.057401 407.464052 
L 1053.16215 407.010298 
L 1057.2669 409.249534 
L 1061.371649 409.676242 
L 1065.476399 415.332162 
L 1069.581148 422.603361 
L 1073.685897 427.289722 
L 1077.790647 430.210088 
L 1081.895396 431.52531 
L 1086.000146 425.477402 
L 1090.104895 429.467726 
L 1094.209645 436.956876 
L 1098.314394 441.51811 
L 1102.419143 446.340726 
L 1106.523893 447.15896 
L 1110.628642 456.197403 
L 1114.733392 458.175506 
L 1118.838141 459.817496 
L 1122.94289 461.223 
L 1127.04764 466.019603 
L 1131.152389 469.125084 
L 1135.257139 476.864845 
L 1143.466638 483.860397 
L 1147.571387 483.416337 
L 1151.676136 489.482844 
L 1155.780886 487.414895 
L 1159.885635 482.90056 
L 1163.990385 493.231001 
L 1168.095134 492.758846 
L 1172.199883 491.510521 
L 1176.304633 495.796861 
L 1180.409382 498.863154 
L 1184.514132 500.729846 
L 1192.723631 505.662435 
L 1196.82838 513.452336 
L 1200.933129 509.329852 
L 1205.037879 506.044617 
L 1209.142628 510.76325 
L 1213.247378 517.737671 
L 1217.352127 516.211638 
L 1221.456876 519.32403 
L 1225.561626 519.372536 
L 1229.666375 521.357657 
L 1233.771125 519.212183 
L 1237.875874 517.360147 
L 1241.980624 521.440932 
L 1246.085373 527.815964 
L 1250.190122 534.423794 
L 1254.294872 531.697332 
L 1258.399621 536.478705 
L 1262.504371 538.120948 
L 1266.60912 540.007588 
L 1270.713869 539.584273 
L 1274.818619 546.752098 
L 1278.923368 544.767081 
L 1283.028118 541.67343 
L 1287.132867 540.647708 
L 1291.237617 541.333119 
L 1295.342366 540.333584 
L 1299.447115 538.236782 
L 1303.551865 548.991134 
L 1307.656614 539.815484 
L 1311.761364 537.786239 
L 1315.866113 540.096899 
L 1319.970862 541.109968 
L 1324.075612 538.465052 
L 1328.180361 538.479321 
L 1332.285111 546.081661 
L 1336.38986 536.552351 
L 1340.49461 536.591869 
L 1344.599359 532.060683 
L 1348.704108 534.742007 
L 1352.808858 528.201231 
L 1356.913607 527.219951 
L 1361.018357 524.96825 
L 1365.123106 529.446135 
L 1369.227855 524.387553 
L 1373.332605 521.812471 
L 1377.437354 516.949234 
L 1381.542104 520.153265 
L 1385.646853 522.333221 
L 1389.751603 513.071202 
L 1393.856352 518.015339 
L 1397.961101 518.647381 
L 1402.065851 514.00276 
L 1406.1706 513.819341 
L 1410.27535 511.569252 
L 1414.380099 513.303732 
L 1418.484848 511.635785 
L 1422.589598 516.650454 
L 1426.694347 509.174083 
L 1430.799097 509.348044 
L 1434.903846 511.561934 
L 1439.008596 507.998965 
L 1443.113345 509.091779 
L 1447.218094 513.359013 
L 1451.322844 517.045925 
L 1455.427593 512.022481 
L 1459.532343 510.689706 
L 1463.637092 509.169096 
L 1467.741841 502.748923 
L 1471.846591 505.530717 
L 1475.95134 506.223095 
L 1480.05609 505.231088 
L 1484.160839 502.186721 
L 1488.265589 499.745162 
L 1492.370338 498.272977 
L 1496.475087 495.795549 
L 1500.579837 493.489101 
L 1508.789336 493.787577 
L 1512.894085 489.358527 
L 1516.998834 489.742602 
L 1521.103584 490.871183 
L 1525.208333 488.235514 
L 1529.313083 484.960367 
L 1533.417832 472.098544 
L 1537.522582 472.033229 
L 1541.627331 465.108152 
L 1545.73208 459.356217 
L 1549.83683 461.592681 
L 1553.941579 455.476613 
L 1558.046329 457.462625 
L 1562.151078 464.816787 
L 1566.255828 458.102417 
L 1570.360577 461.15559 
L 1574.465326 454.784455 
L 1578.570076 453.249071 
L 1582.674825 442.197814 
L 1586.779575 434.277106 
L 1590.884324 432.88183 
L 1594.989073 432.225296 
L 1599.093823 433.394425 
L 1603.198572 431.025053 
L 1607.303322 427.910729 
L 1611.408071 425.100151 
L 1615.512821 420.146574 
L 1619.61757 413.659424 
L 1623.722319 408.383997 
L 1627.827069 407.72487 
L 1631.931818 409.464454 
L 1636.036568 399.506175 
L 1640.141317 398.375841 
L 1644.246066 396.854132 
L 1648.350816 394.60459 
L 1652.455565 397.490616 
L 1660.665064 391.051056 
L 1668.874563 375.827608 
L 1672.979312 371.425986 
L 1677.084062 363.402804 
L 1681.188811 358.178512 
L 1685.293561 354.531373 
L 1685.293561 354.531373 
" clip-path="url(#p6c6bb15aff)" style="fill: none; stroke: #56b4e9; stroke-width: 4.166667; stroke-linecap: square"/>
   </g>
   <g id="line2d_31">
    <path d="M 191.164773 319.881476 
L 195.269522 346.584216 
L 199.374272 345.603106 
L 203.479021 329.431438 
L 207.58377 322.548744 
L 211.68852 341.430753 
L 215.793269 339.351297 
L 219.898019 344.886731 
L 224.002768 348.228396 
L 228.107517 347.162013 
L 232.212267 347.331272 
L 236.317016 339.693271 
L 240.421766 336.595904 
L 244.526515 336.846279 
L 248.631265 334.995181 
L 252.736014 333.524669 
L 256.840763 326.291072 
L 260.945513 327.608935 
L 265.050262 325.961438 
L 269.155012 329.429455 
L 273.259761 339.678443 
L 277.36451 334.109179 
L 281.46926 327.916316 
L 285.574009 329.048253 
L 289.678759 316.753152 
L 293.783508 321.380691 
L 297.888258 318.785573 
L 301.993007 317.113979 
L 306.097756 308.090943 
L 310.202506 299.981702 
L 314.307255 297.865984 
L 318.412005 294.728282 
L 322.516754 296.808683 
L 326.621503 302.830294 
L 330.726253 301.225868 
L 334.831002 297.422096 
L 338.935752 289.338832 
L 343.040501 281.905919 
L 347.145251 281.386027 
L 351.25 280.281043 
L 355.354749 282.013804 
L 359.459499 284.781084 
L 363.564248 288.136546 
L 367.668998 276.151805 
L 371.773747 275.007863 
L 375.878497 273.423368 
L 379.983246 275.005405 
L 384.087995 268.022019 
L 388.192745 271.076453 
L 392.297494 267.956605 
L 396.402244 267.638897 
L 400.506993 261.977917 
L 404.611742 260.241636 
L 408.716492 261.126259 
L 412.821241 257.085933 
L 416.925991 251.40392 
L 421.03074 247.520313 
L 425.13549 242.87067 
L 429.240239 242.220865 
L 433.344988 240.348184 
L 437.449738 239.701396 
L 441.554487 237.67696 
L 445.659237 237.477638 
L 449.763986 240.759284 
L 453.868735 235.937904 
L 457.973485 233.738022 
L 462.078234 236.492022 
L 466.182984 230.459206 
L 470.287733 230.339108 
L 474.392483 226.254098 
L 478.497232 219.731956 
L 482.601981 216.116026 
L 486.706731 208.698254 
L 490.81148 211.361708 
L 494.91623 207.10723 
L 499.020979 207.495825 
L 503.125728 208.475262 
L 507.230478 208.086541 
L 511.335227 206.570598 
L 515.439977 203.645622 
L 519.544726 205.793541 
L 523.649476 199.407035 
L 527.754225 195.31699 
L 531.858974 199.545437 
L 535.963724 191.228091 
L 540.068473 182.057933 
L 544.173223 176.609868 
L 548.277972 177.075096 
L 552.382721 181.002886 
L 556.487471 176.029911 
L 560.59222 177.334578 
L 564.69697 172.004236 
L 568.801719 171.231264 
L 572.906469 167.46018 
L 577.011218 166.532126 
L 581.115967 164.300151 
L 585.220717 165.0712 
L 589.325466 158.699277 
L 593.430216 159.594335 
L 597.534965 159.326165 
L 601.639714 153.209362 
L 605.744464 160.617488 
L 609.849213 167.01704 
L 613.953963 163.894338 
L 618.058712 169.676063 
L 622.163462 162.513658 
L 626.268211 165.527029 
L 630.37296 169.63885 
L 634.47771 162.769906 
L 638.582459 158.431865 
L 642.687209 153.070944 
L 646.791958 152.170456 
L 650.896707 158.501698 
L 655.001457 153.256107 
L 659.106206 157.325239 
L 663.210956 156.834302 
L 667.315705 155.93446 
L 671.420455 159.642801 
L 675.525204 160.044562 
L 679.629953 159.313107 
L 683.734703 160.97071 
L 687.839452 168.490849 
L 691.944202 169.838694 
L 696.048951 167.109381 
L 700.1537 172.869477 
L 704.25845 176.047332 
L 708.363199 180.216315 
L 712.467949 175.038356 
L 716.572698 175.250153 
L 720.677448 176.681693 
L 724.782197 182.853131 
L 728.886946 183.383693 
L 732.991696 188.897775 
L 737.096445 191.249386 
L 741.201195 196.235377 
L 745.305944 195.704536 
L 749.410693 195.841606 
L 753.515443 199.314647 
L 757.620192 200.256867 
L 761.724942 207.269676 
L 765.829691 215.401795 
L 769.934441 215.262408 
L 774.03919 216.465208 
L 778.143939 215.925821 
L 782.248689 208.721047 
L 786.353438 208.223628 
L 790.458188 215.435075 
L 794.562937 214.093747 
L 798.667686 222.846977 
L 802.772436 227.585578 
L 806.877185 230.551709 
L 810.981935 226.392191 
L 819.191434 239.023017 
L 823.296183 242.073352 
L 827.400932 247.354918 
L 831.505682 245.259647 
L 839.715181 259.498881 
L 843.81993 263.300668 
L 847.924679 267.258891 
L 852.029429 261.443803 
L 856.134178 260.417942 
L 860.238928 263.233111 
L 864.343677 271.305316 
L 868.448427 270.626848 
L 872.553176 277.677316 
L 876.657925 286.503563 
L 880.762675 283.865957 
L 884.867424 285.277515 
L 888.972174 284.455285 
L 893.076923 286.43124 
L 897.181672 286.381723 
L 901.286422 292.665581 
L 905.391171 300.167602 
L 909.495921 300.399956 
L 913.60067 306.848992 
L 917.70542 312.520594 
L 921.810169 317.014115 
L 925.914918 319.495183 
L 930.019668 323.531532 
L 934.124417 331.556748 
L 938.229167 336.18743 
L 942.333916 346.975245 
L 946.438666 345.652657 
L 950.543415 353.663293 
L 954.648164 359.211814 
L 958.752914 359.91779 
L 962.857663 364.030889 
L 966.962413 358.955595 
L 971.067162 366.012333 
L 975.171911 366.46547 
L 979.276661 368.413383 
L 983.38141 374.984044 
L 987.48616 374.472816 
L 991.590909 377.098143 
L 995.695659 376.015369 
L 999.800408 375.147972 
L 1003.905157 369.338888 
L 1008.009907 367.716204 
L 1012.114656 373.363344 
L 1016.219406 378.235183 
L 1020.324155 377.58736 
L 1024.428904 379.078705 
L 1028.533654 380.782206 
L 1032.638403 391.610991 
L 1036.743153 395.305248 
L 1040.847902 401.769203 
L 1044.952652 403.821035 
L 1049.057401 407.464052 
L 1053.16215 407.010298 
L 1057.2669 409.249534 
L 1061.371649 409.676242 
L 1065.476399 415.332162 
L 1069.581148 422.603361 
L 1073.685897 427.289722 
L 1077.790647 430.210088 
L 1081.895396 431.52531 
L 1086.000146 425.477402 
L 1090.104895 429.467726 
L 1094.209645 436.956876 
L 1098.314394 441.51811 
L 1102.419143 446.340726 
L 1106.523893 447.15896 
L 1110.628642 456.197403 
L 1114.733392 458.175506 
L 1118.838141 459.817496 
L 1122.94289 461.223 
L 1127.04764 466.019604 
L 1131.152389 469.125084 
L 1135.257139 476.864845 
L 1143.466638 483.860397 
L 1147.571387 483.416337 
L 1151.676136 489.482844 
L 1155.780886 487.414895 
L 1159.885635 482.90056 
L 1163.990385 493.231001 
L 1168.095134 492.758846 
L 1172.199883 491.510521 
L 1176.304633 495.796861 
L 1180.409382 498.863154 
L 1184.514132 500.729846 
L 1192.723631 505.662435 
L 1196.82838 513.452336 
L 1200.933129 509.329852 
L 1205.037879 506.044617 
L 1209.142628 510.76325 
L 1213.247378 517.737671 
L 1217.352127 516.211638 
L 1221.456876 519.32403 
L 1225.561626 519.372536 
L 1229.666375 521.357657 
L 1233.771125 519.212183 
L 1237.875874 517.360147 
L 1241.980624 521.440932 
L 1246.085373 527.815964 
L 1250.190122 534.423794 
L 1254.294872 531.697332 
L 1258.399621 536.478705 
L 1262.504371 538.120948 
L 1266.60912 540.007588 
L 1270.713869 539.584273 
L 1274.818619 546.752098 
L 1278.923368 544.767081 
L 1283.028118 541.67343 
L 1287.132867 540.647708 
L 1291.237617 541.333119 
L 1295.342366 540.333584 
L 1299.447115 538.236782 
L 1303.551865 548.991134 
L 1307.656614 539.815484 
L 1311.761364 537.786239 
L 1315.866113 540.096899 
L 1319.970862 541.109968 
L 1324.075612 538.465052 
L 1328.180361 538.479321 
L 1332.285111 546.081661 
L 1336.38986 536.552351 
L 1340.49461 536.591869 
L 1344.599359 532.060683 
L 1348.704108 534.742007 
L 1352.808858 528.201231 
L 1356.913607 527.219951 
L 1361.018357 524.96825 
L 1365.123106 529.446135 
L 1369.227855 524.387553 
L 1373.332605 521.812471 
L 1377.437354 516.949234 
L 1381.542104 520.153265 
L 1385.646853 522.333221 
L 1389.751603 513.071202 
L 1393.856352 518.015339 
L 1397.961101 518.647381 
L 1402.065851 514.00276 
L 1406.1706 513.819341 
L 1410.27535 511.569252 
L 1414.380099 513.303732 
L 1418.484848 511.635785 
L 1422.589598 516.650454 
L 1426.694347 509.174083 
L 1430.799097 509.348044 
L 1434.903846 511.561934 
L 1439.008596 507.998965 
L 1443.113345 509.091779 
L 1447.218094 513.359013 
L 1451.322844 517.045925 
L 1455.427593 512.022481 
L 1459.532343 510.689706 
L 1463.637092 509.169096 
L 1467.741841 502.748923 
L 1471.846591 505.530717 
L 1475.95134 506.223095 
L 1480.05609 505.231088 
L 1484.160839 502.186721 
L 1488.265589 499.745162 
L 1492.370338 498.272977 
L 1496.475087 495.795549 
L 1500.579837 493.489101 
L 1508.789336 493.787577 
L 1512.894085 489.358527 
L 1516.998834 489.742602 
L 1521.103584 490.871183 
L 1525.208333 488.235514 
L 1529.313083 484.960367 
L 1533.417832 472.098544 
L 1537.522582 472.033229 
L 1541.627331 465.108152 
L 1545.73208 459.356217 
L 1549.83683 461.592681 
L 1553.941579 455.476613 
L 1558.046329 457.462625 
L 1562.151078 464.816787 
L 1566.255828 458.102417 
L 1570.360577 461.15559 
L 1574.465326 454.784455 
L 1578.570076 453.249071 
L 1582.674825 442.197814 
L 1586.779575 434.277106 
L 1590.884324 432.88183 
L 1594.989073 432.225296 
L 1599.093823 433.394425 
L 1603.198572 431.025053 
L 1607.303322 427.910729 
L 1611.408071 425.100151 
L 1615.512821 420.146574 
L 1619.61757 413.659424 
L 1623.722319 408.383997 
L 1627.827069 407.72487 
L 1631.931818 409.464454 
L 1636.036568 399.506175 
L 1640.141317 398.375841 
L 1644.246066 396.854132 
L 1648.350816 394.60459 
L 1652.455565 397.490616 
L 1660.665064 391.051056 
L 1668.874563 375.827608 
L 1672.979312 371.425986 
L 1677.084062 363.402804 
L 1681.188811 358.178512 
L 1685.293561 354.531373 
L 1685.293561 354.531373 
" clip-path="url(#p6c6bb15aff)" style="fill: none; stroke: #009e73; stroke-width: 4.166667; stroke-linecap: square"/>
   </g>
   <g id="patch_3">
    <path d="M 116.5 673.5 L 116.5 71.5" style="fill: none; stroke: #1a1a1a; stroke-width: 2.777778; stroke-linejoin: miter; stroke-linecap: square"/>
   </g>
   <g id="patch_4">
    <path d="M 116.5 673.5 L 1760.5 673.5" style="fill: none; stroke: #1a1a1a; stroke-width: 2.777778; stroke-linejoin: miter; stroke-linecap: square"/>
   </g>
   <g id="text_17">
    <text style="font-size: 44.444444px; font-family: 'DejaVu Sans', sans-serif; text-anchor: middle; fill: #333333" x="938.529" y="54">EMA: biased vs unbiased (&#xE000;&#xE000;)</text>
   </g>
   <g id="legend_1">
    <g id="patch_5">
     <path d="M 1226.5 260.5 L 1741.5 260.5 Q 1746.5 260.5 1746.5 255.5 L 1746.5 90.5 Q 1746.5 85.5 1741.5 85.5 L 1226.5 85.5 Q 1221.5 85.5 1221.5 90.5 L 1221.5 255.5 Q 1221.5 260.5 1226.5 260.5 z" style="fill: #ffffff; opacity: 0.8; stroke: #cccccc; stroke-width: 2.777778; stroke-linejoin: miter"/>
    </g>
    <g id="PathCollection_2">
     <g>
      <use href="#m74cac487a1" x="1260.5" y="110.5" style="fill: #e69f00; fill-opacity: 0.4; stroke: #e69f00; stroke-opacity: 0.4; stroke-width: 4.166667"/>
     </g>
    </g>
    <g id="text_18">
     <text style="font-size: 27.777778px; font-family: 'DejaVu Sans', sans-serif; text-anchor: start; fill: #333333" x="1309.75" y="117.666667">observations (noisy)</text>
    </g>
    <g id="line2d_32">
     <path d="M 1232 150 L 1260 150 L 1288 150" style="fill: none; stroke: #e69f00; stroke-width: 4.166667; stroke-linecap: square"/>
    </g>
    <g id="text_19">
     <text style="font-size: 27.777778px; font-family: 'DejaVu Sans', sans-serif; text-anchor: start; fill: #333333" x="1310.05" y="159.556">biased EMA (m0 = 0)</text>
    </g>
    <g id="line2d_33">
     <path d="M 1232 192 L 1260 192 L 1288 192" style="fill: none; stroke: #56b4e9; stroke-width: 4.166667; stroke-linecap: square"/>
    </g>
    <g id="text_20">
     <text style="font-size: 27.777778px; font-family: 'DejaVu Sans', sans-serif; text-anchor: start; fill: #333333" x="1310.05" y="202.444">biased EMA (m0 = x0)</text>
    </g>
    <g id="line2d_34">
     <path d="M 1232 234 L 1260 234 L 1288 234" style="fill: none; stroke: #009e73; stroke-width: 4.166667; stroke-linecap: square"/>
    </g>
    <g id="text_21">
     <text style="font-size: 27.777778px; font-family: 'DejaVu Sans', sans-serif; text-anchor: start; fill: #333333" x="1309.95" y="244.333">unbiased EMA (bias-corrected)</text>
    </g>
   </g>
  </g>
 </g>
 <defs>
  <clipPath id="p6c6bb15aff">
   <rect x="116.458333" y="70.666667" width="1643.541667" height="602.5"/>
  </clipPath>
 </defs>
</svg>

</body>
</html>
